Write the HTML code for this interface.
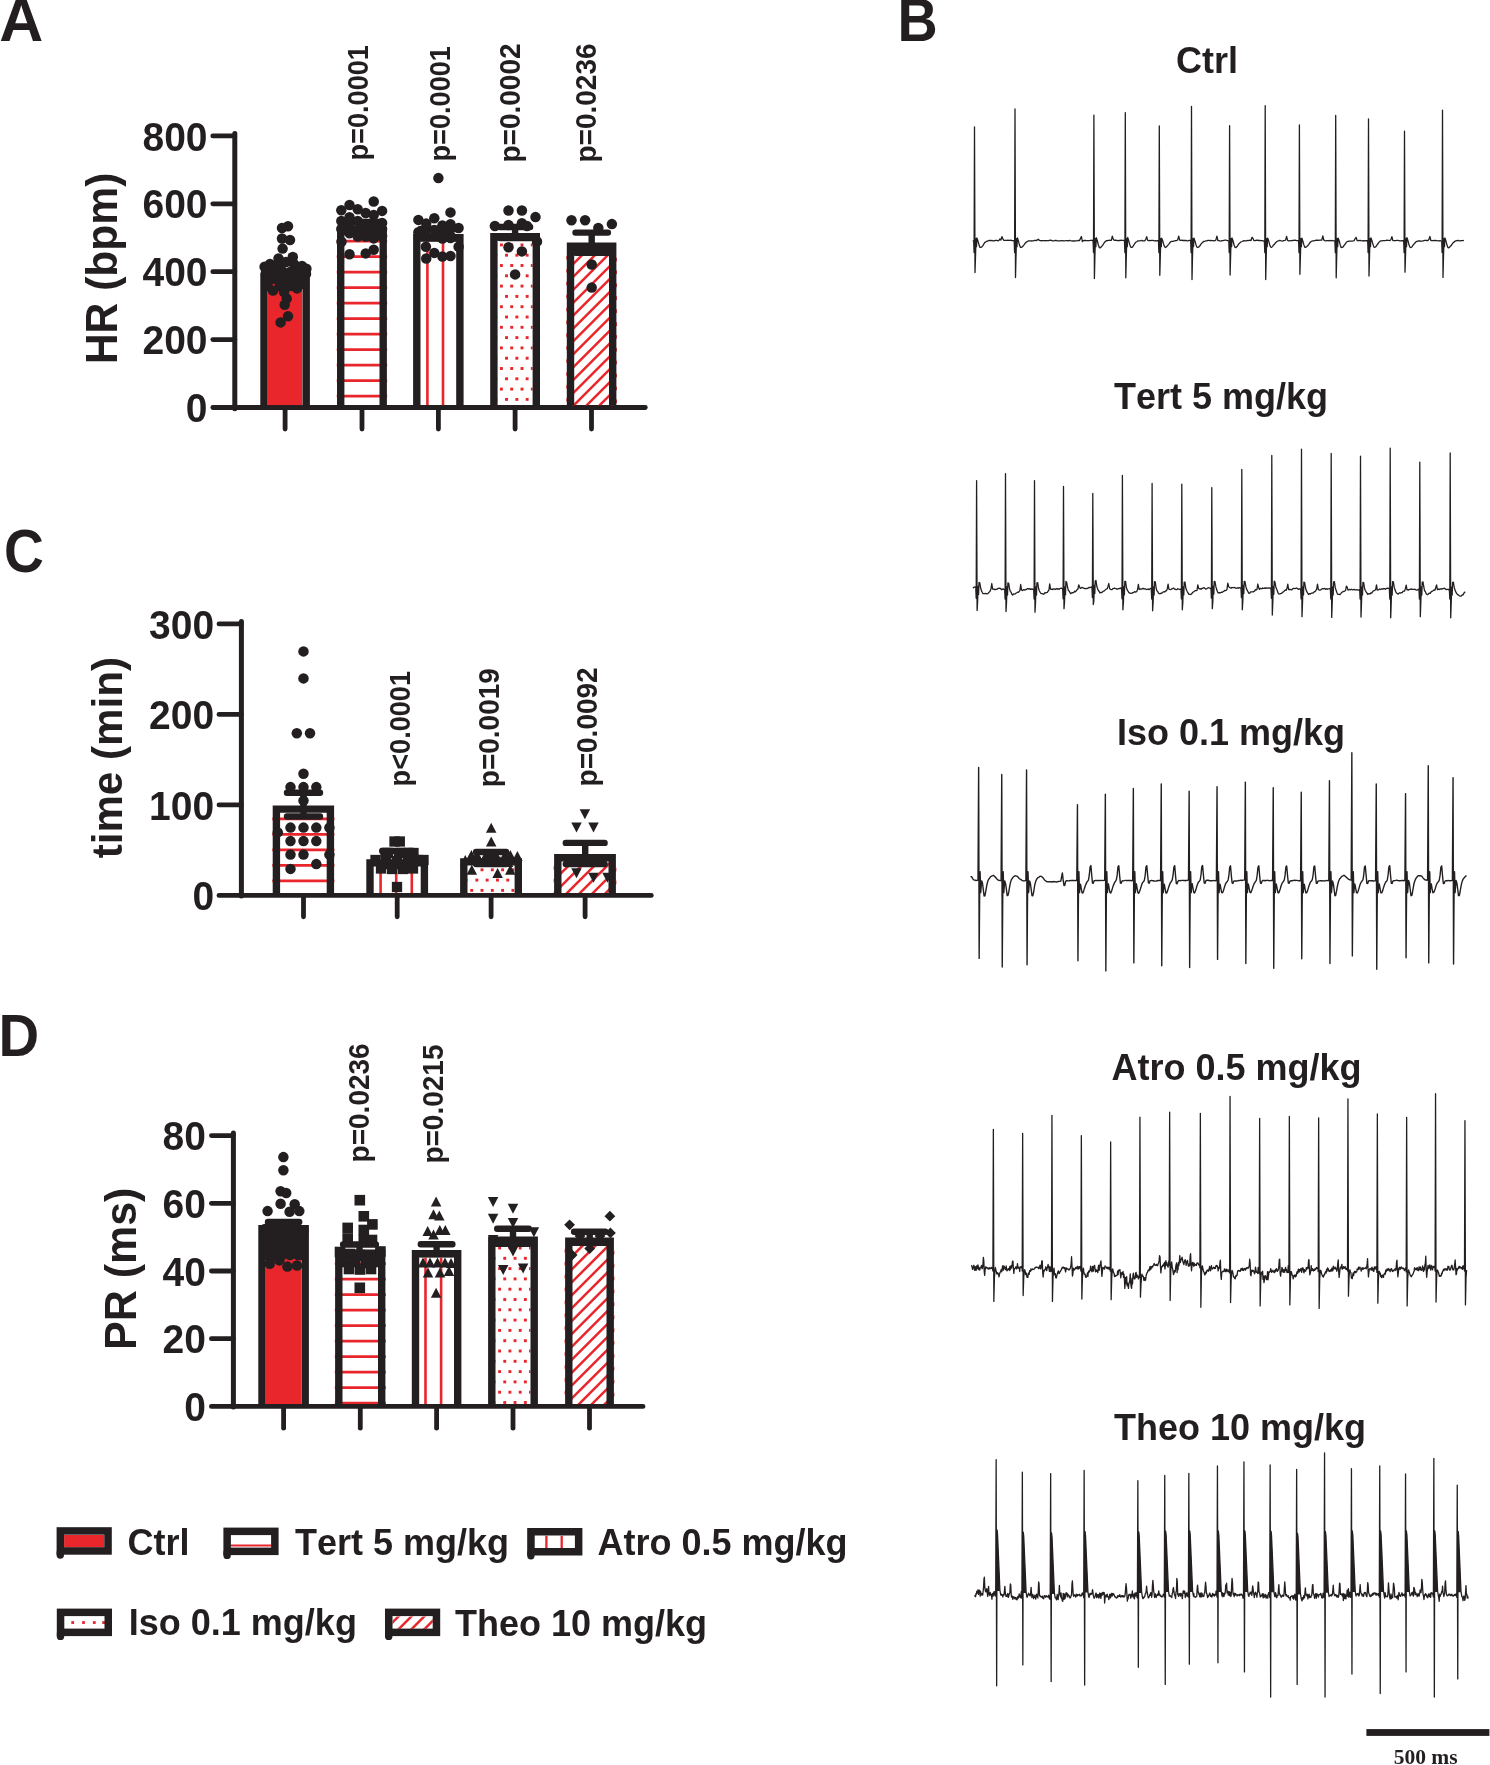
<!DOCTYPE html><html><head><meta charset="utf-8"><style>html,body{margin:0;padding:0;background:#fff;}svg{display:block;will-change:transform;}</style></head><body><svg width="1490" height="1765" viewBox="0 0 1490 1765"><defs><clipPath id="c1"><rect x="267.7" y="280.2" width="34.8" height="125"/></clipPath><clipPath id="c2"><rect x="336.5" y="234.4" width="50.9" height="170.8"/></clipPath><clipPath id="c3"><rect x="420.5" y="241.3" width="35.7" height="163.9"/></clipPath><clipPath id="c4"><rect x="497.6" y="240.5" width="35" height="164.7"/></clipPath><clipPath id="c5"><rect x="566.3" y="249.9" width="50.6" height="155.3"/></clipPath><clipPath id="c6"><rect x="272.2" y="812.8" width="62.4" height="80.3"/></clipPath><clipPath id="c7"><rect x="373.7" y="866.6" width="47" height="26.5"/></clipPath><clipPath id="c8"><rect x="467.5" y="865.6" width="47.1" height="27.5"/></clipPath><clipPath id="c9"><rect x="553.6" y="861.4" width="62.8" height="31.7"/></clipPath><clipPath id="c10"><rect x="265.7" y="1232.4" width="35.8" height="171.7"/></clipPath><clipPath id="c11"><rect x="334.6" y="1256.9" width="51.3" height="147.2"/></clipPath><clipPath id="c12"><rect x="419.2" y="1257.4" width="34.8" height="146.7"/></clipPath><clipPath id="c13"><rect x="495.5" y="1243.8" width="35" height="160.3"/></clipPath><clipPath id="c14"><rect x="564.6" y="1244.8" width="49.8" height="159.3"/></clipPath><clipPath id="c15"><rect x="392.5" y="1616.4" width="40.2" height="12.3"/></clipPath></defs><rect width="1490" height="1765" fill="#ffffff"/><text transform="translate(-0.87,41.1) scale(1.05,1.05)" font-size="58" text-anchor="start" font-family='"Liberation Sans", sans-serif' font-weight="bold" fill="#231f20" style="font-kerning:none" >A</text>
<text transform="translate(3.9,572.1) scale(0.95,1.04)" font-size="58" text-anchor="start" font-family='"Liberation Sans", sans-serif' font-weight="bold" fill="#231f20" style="font-kerning:none" >C</text>
<text transform="translate(-1.4,1056.2) scale(0.97,1.03)" font-size="58" text-anchor="start" font-family='"Liberation Sans", sans-serif' font-weight="bold" fill="#231f20" style="font-kerning:none" >D</text>
<text transform="translate(897.6,41.1) scale(0.96,1.05)" font-size="58" text-anchor="start" font-family='"Liberation Sans", sans-serif' font-weight="bold" fill="#231f20" style="font-kerning:none" >B</text>
<line x1="234.8" y1="133.6" x2="234.8" y2="408.8" stroke="#231f20" stroke-width="5" stroke-linecap="round"/>
<line x1="212.8" y1="135.9" x2="234.8" y2="135.9" stroke="#231f20" stroke-width="4.8" stroke-linecap="round"/>
<text transform="translate(207.5,150.5) scale(1,1.06)" font-size="39" text-anchor="end" font-family='"Liberation Sans", sans-serif' font-weight="bold" fill="#231f20" style="font-kerning:none" >800</text>
<line x1="212.8" y1="203.8" x2="234.8" y2="203.8" stroke="#231f20" stroke-width="4.8" stroke-linecap="round"/>
<text transform="translate(207.5,218.4) scale(1,1.06)" font-size="39" text-anchor="end" font-family='"Liberation Sans", sans-serif' font-weight="bold" fill="#231f20" style="font-kerning:none" >600</text>
<line x1="212.8" y1="271.7" x2="234.8" y2="271.7" stroke="#231f20" stroke-width="4.8" stroke-linecap="round"/>
<text transform="translate(207.5,286.3) scale(1,1.06)" font-size="39" text-anchor="end" font-family='"Liberation Sans", sans-serif' font-weight="bold" fill="#231f20" style="font-kerning:none" >400</text>
<line x1="212.8" y1="339.6" x2="234.8" y2="339.6" stroke="#231f20" stroke-width="4.8" stroke-linecap="round"/>
<text transform="translate(207.5,354.2) scale(1,1.06)" font-size="39" text-anchor="end" font-family='"Liberation Sans", sans-serif' font-weight="bold" fill="#231f20" style="font-kerning:none" >200</text>
<line x1="212.8" y1="407.5" x2="234.8" y2="407.5" stroke="#231f20" stroke-width="4.8" stroke-linecap="round"/>
<text transform="translate(207.5,422.1) scale(1,1.06)" font-size="39" text-anchor="end" font-family='"Liberation Sans", sans-serif' font-weight="bold" fill="#231f20" style="font-kerning:none" >0</text>
<line x1="234.8" y1="407.5" x2="645.3" y2="407.5" stroke="#231f20" stroke-width="4.8" stroke-linecap="round"/>
<text transform="translate(116.8,268.4) rotate(-90) scale(0.99,1.03)" font-size="43" text-anchor="middle" font-family='"Liberation Sans", sans-serif' font-weight="bold" fill="#231f20" style="font-kerning:none" >HR (bpm)</text>
<g clip-path="url(#c1)"><rect x="267.7" y="280.2" width="34.8" height="125" fill="#e9262c"/></g>
<path d="M264,405.2 L264,276.5 L306.2,276.5 L306.2,405.2" fill="none" stroke="#231f20" stroke-width="7.4" stroke-linejoin="miter"/>
<g clip-path="url(#c2)"><line x1="336.5" y1="225.7" x2="387.4" y2="225.7" stroke="#e9262c" stroke-width="2.7"/><line x1="336.5" y1="241.2" x2="387.4" y2="241.2" stroke="#e9262c" stroke-width="2.7"/><line x1="336.5" y1="256.7" x2="387.4" y2="256.7" stroke="#e9262c" stroke-width="2.7"/><line x1="336.5" y1="272.2" x2="387.4" y2="272.2" stroke="#e9262c" stroke-width="2.7"/><line x1="336.5" y1="287.7" x2="387.4" y2="287.7" stroke="#e9262c" stroke-width="2.7"/><line x1="336.5" y1="303.2" x2="387.4" y2="303.2" stroke="#e9262c" stroke-width="2.7"/><line x1="336.5" y1="318.7" x2="387.4" y2="318.7" stroke="#e9262c" stroke-width="2.7"/><line x1="336.5" y1="334.2" x2="387.4" y2="334.2" stroke="#e9262c" stroke-width="2.7"/><line x1="336.5" y1="349.7" x2="387.4" y2="349.7" stroke="#e9262c" stroke-width="2.7"/><line x1="336.5" y1="365.2" x2="387.4" y2="365.2" stroke="#e9262c" stroke-width="2.7"/><line x1="336.5" y1="380.7" x2="387.4" y2="380.7" stroke="#e9262c" stroke-width="2.7"/><line x1="336.5" y1="396.2" x2="387.4" y2="396.2" stroke="#e9262c" stroke-width="2.7"/></g>
<path d="M340.7,405.2 L340.7,230.7 L383.2,230.7 L383.2,405.2" fill="none" stroke="#231f20" stroke-width="7.4" stroke-linejoin="miter"/>
<g clip-path="url(#c3)"><line x1="411.8" y1="241.3" x2="411.8" y2="405.2" stroke="#e9262c" stroke-width="2.6"/><line x1="427.4" y1="241.3" x2="427.4" y2="405.2" stroke="#e9262c" stroke-width="2.6"/><line x1="443" y1="241.3" x2="443" y2="405.2" stroke="#e9262c" stroke-width="2.6"/></g>
<path d="M416.8,405.2 L416.8,237.6 L459.9,237.6 L459.9,405.2" fill="none" stroke="#231f20" stroke-width="7.4" stroke-linejoin="miter"/>
<g clip-path="url(#c4)"><rect x="479.35" y="222.85" width="2.9" height="2.9" fill="#e9262c"/><rect x="489.65" y="222.85" width="2.9" height="2.9" fill="#e9262c"/><rect x="499.95" y="222.85" width="2.9" height="2.9" fill="#e9262c"/><rect x="510.25" y="222.85" width="2.9" height="2.9" fill="#e9262c"/><rect x="520.55" y="222.85" width="2.9" height="2.9" fill="#e9262c"/><rect x="530.85" y="222.85" width="2.9" height="2.9" fill="#e9262c"/><rect x="541.15" y="222.85" width="2.9" height="2.9" fill="#e9262c"/><rect x="484.5" y="233.15" width="2.9" height="2.9" fill="#e9262c"/><rect x="494.8" y="233.15" width="2.9" height="2.9" fill="#e9262c"/><rect x="505.1" y="233.15" width="2.9" height="2.9" fill="#e9262c"/><rect x="515.4" y="233.15" width="2.9" height="2.9" fill="#e9262c"/><rect x="525.7" y="233.15" width="2.9" height="2.9" fill="#e9262c"/><rect x="536" y="233.15" width="2.9" height="2.9" fill="#e9262c"/><rect x="479.35" y="243.45" width="2.9" height="2.9" fill="#e9262c"/><rect x="489.65" y="243.45" width="2.9" height="2.9" fill="#e9262c"/><rect x="499.95" y="243.45" width="2.9" height="2.9" fill="#e9262c"/><rect x="510.25" y="243.45" width="2.9" height="2.9" fill="#e9262c"/><rect x="520.55" y="243.45" width="2.9" height="2.9" fill="#e9262c"/><rect x="530.85" y="243.45" width="2.9" height="2.9" fill="#e9262c"/><rect x="541.15" y="243.45" width="2.9" height="2.9" fill="#e9262c"/><rect x="484.5" y="253.75" width="2.9" height="2.9" fill="#e9262c"/><rect x="494.8" y="253.75" width="2.9" height="2.9" fill="#e9262c"/><rect x="505.1" y="253.75" width="2.9" height="2.9" fill="#e9262c"/><rect x="515.4" y="253.75" width="2.9" height="2.9" fill="#e9262c"/><rect x="525.7" y="253.75" width="2.9" height="2.9" fill="#e9262c"/><rect x="536" y="253.75" width="2.9" height="2.9" fill="#e9262c"/><rect x="479.35" y="264.05" width="2.9" height="2.9" fill="#e9262c"/><rect x="489.65" y="264.05" width="2.9" height="2.9" fill="#e9262c"/><rect x="499.95" y="264.05" width="2.9" height="2.9" fill="#e9262c"/><rect x="510.25" y="264.05" width="2.9" height="2.9" fill="#e9262c"/><rect x="520.55" y="264.05" width="2.9" height="2.9" fill="#e9262c"/><rect x="530.85" y="264.05" width="2.9" height="2.9" fill="#e9262c"/><rect x="541.15" y="264.05" width="2.9" height="2.9" fill="#e9262c"/><rect x="484.5" y="274.35" width="2.9" height="2.9" fill="#e9262c"/><rect x="494.8" y="274.35" width="2.9" height="2.9" fill="#e9262c"/><rect x="505.1" y="274.35" width="2.9" height="2.9" fill="#e9262c"/><rect x="515.4" y="274.35" width="2.9" height="2.9" fill="#e9262c"/><rect x="525.7" y="274.35" width="2.9" height="2.9" fill="#e9262c"/><rect x="536" y="274.35" width="2.9" height="2.9" fill="#e9262c"/><rect x="479.35" y="284.65" width="2.9" height="2.9" fill="#e9262c"/><rect x="489.65" y="284.65" width="2.9" height="2.9" fill="#e9262c"/><rect x="499.95" y="284.65" width="2.9" height="2.9" fill="#e9262c"/><rect x="510.25" y="284.65" width="2.9" height="2.9" fill="#e9262c"/><rect x="520.55" y="284.65" width="2.9" height="2.9" fill="#e9262c"/><rect x="530.85" y="284.65" width="2.9" height="2.9" fill="#e9262c"/><rect x="541.15" y="284.65" width="2.9" height="2.9" fill="#e9262c"/><rect x="484.5" y="294.95" width="2.9" height="2.9" fill="#e9262c"/><rect x="494.8" y="294.95" width="2.9" height="2.9" fill="#e9262c"/><rect x="505.1" y="294.95" width="2.9" height="2.9" fill="#e9262c"/><rect x="515.4" y="294.95" width="2.9" height="2.9" fill="#e9262c"/><rect x="525.7" y="294.95" width="2.9" height="2.9" fill="#e9262c"/><rect x="536" y="294.95" width="2.9" height="2.9" fill="#e9262c"/><rect x="479.35" y="305.25" width="2.9" height="2.9" fill="#e9262c"/><rect x="489.65" y="305.25" width="2.9" height="2.9" fill="#e9262c"/><rect x="499.95" y="305.25" width="2.9" height="2.9" fill="#e9262c"/><rect x="510.25" y="305.25" width="2.9" height="2.9" fill="#e9262c"/><rect x="520.55" y="305.25" width="2.9" height="2.9" fill="#e9262c"/><rect x="530.85" y="305.25" width="2.9" height="2.9" fill="#e9262c"/><rect x="541.15" y="305.25" width="2.9" height="2.9" fill="#e9262c"/><rect x="484.5" y="315.55" width="2.9" height="2.9" fill="#e9262c"/><rect x="494.8" y="315.55" width="2.9" height="2.9" fill="#e9262c"/><rect x="505.1" y="315.55" width="2.9" height="2.9" fill="#e9262c"/><rect x="515.4" y="315.55" width="2.9" height="2.9" fill="#e9262c"/><rect x="525.7" y="315.55" width="2.9" height="2.9" fill="#e9262c"/><rect x="536" y="315.55" width="2.9" height="2.9" fill="#e9262c"/><rect x="479.35" y="325.85" width="2.9" height="2.9" fill="#e9262c"/><rect x="489.65" y="325.85" width="2.9" height="2.9" fill="#e9262c"/><rect x="499.95" y="325.85" width="2.9" height="2.9" fill="#e9262c"/><rect x="510.25" y="325.85" width="2.9" height="2.9" fill="#e9262c"/><rect x="520.55" y="325.85" width="2.9" height="2.9" fill="#e9262c"/><rect x="530.85" y="325.85" width="2.9" height="2.9" fill="#e9262c"/><rect x="541.15" y="325.85" width="2.9" height="2.9" fill="#e9262c"/><rect x="484.5" y="336.15" width="2.9" height="2.9" fill="#e9262c"/><rect x="494.8" y="336.15" width="2.9" height="2.9" fill="#e9262c"/><rect x="505.1" y="336.15" width="2.9" height="2.9" fill="#e9262c"/><rect x="515.4" y="336.15" width="2.9" height="2.9" fill="#e9262c"/><rect x="525.7" y="336.15" width="2.9" height="2.9" fill="#e9262c"/><rect x="536" y="336.15" width="2.9" height="2.9" fill="#e9262c"/><rect x="479.35" y="346.45" width="2.9" height="2.9" fill="#e9262c"/><rect x="489.65" y="346.45" width="2.9" height="2.9" fill="#e9262c"/><rect x="499.95" y="346.45" width="2.9" height="2.9" fill="#e9262c"/><rect x="510.25" y="346.45" width="2.9" height="2.9" fill="#e9262c"/><rect x="520.55" y="346.45" width="2.9" height="2.9" fill="#e9262c"/><rect x="530.85" y="346.45" width="2.9" height="2.9" fill="#e9262c"/><rect x="541.15" y="346.45" width="2.9" height="2.9" fill="#e9262c"/><rect x="484.5" y="356.75" width="2.9" height="2.9" fill="#e9262c"/><rect x="494.8" y="356.75" width="2.9" height="2.9" fill="#e9262c"/><rect x="505.1" y="356.75" width="2.9" height="2.9" fill="#e9262c"/><rect x="515.4" y="356.75" width="2.9" height="2.9" fill="#e9262c"/><rect x="525.7" y="356.75" width="2.9" height="2.9" fill="#e9262c"/><rect x="536" y="356.75" width="2.9" height="2.9" fill="#e9262c"/><rect x="479.35" y="367.05" width="2.9" height="2.9" fill="#e9262c"/><rect x="489.65" y="367.05" width="2.9" height="2.9" fill="#e9262c"/><rect x="499.95" y="367.05" width="2.9" height="2.9" fill="#e9262c"/><rect x="510.25" y="367.05" width="2.9" height="2.9" fill="#e9262c"/><rect x="520.55" y="367.05" width="2.9" height="2.9" fill="#e9262c"/><rect x="530.85" y="367.05" width="2.9" height="2.9" fill="#e9262c"/><rect x="541.15" y="367.05" width="2.9" height="2.9" fill="#e9262c"/><rect x="484.5" y="377.35" width="2.9" height="2.9" fill="#e9262c"/><rect x="494.8" y="377.35" width="2.9" height="2.9" fill="#e9262c"/><rect x="505.1" y="377.35" width="2.9" height="2.9" fill="#e9262c"/><rect x="515.4" y="377.35" width="2.9" height="2.9" fill="#e9262c"/><rect x="525.7" y="377.35" width="2.9" height="2.9" fill="#e9262c"/><rect x="536" y="377.35" width="2.9" height="2.9" fill="#e9262c"/><rect x="479.35" y="387.65" width="2.9" height="2.9" fill="#e9262c"/><rect x="489.65" y="387.65" width="2.9" height="2.9" fill="#e9262c"/><rect x="499.95" y="387.65" width="2.9" height="2.9" fill="#e9262c"/><rect x="510.25" y="387.65" width="2.9" height="2.9" fill="#e9262c"/><rect x="520.55" y="387.65" width="2.9" height="2.9" fill="#e9262c"/><rect x="530.85" y="387.65" width="2.9" height="2.9" fill="#e9262c"/><rect x="541.15" y="387.65" width="2.9" height="2.9" fill="#e9262c"/><rect x="484.5" y="397.95" width="2.9" height="2.9" fill="#e9262c"/><rect x="494.8" y="397.95" width="2.9" height="2.9" fill="#e9262c"/><rect x="505.1" y="397.95" width="2.9" height="2.9" fill="#e9262c"/><rect x="515.4" y="397.95" width="2.9" height="2.9" fill="#e9262c"/><rect x="525.7" y="397.95" width="2.9" height="2.9" fill="#e9262c"/><rect x="536" y="397.95" width="2.9" height="2.9" fill="#e9262c"/><rect x="479.35" y="408.25" width="2.9" height="2.9" fill="#e9262c"/><rect x="489.65" y="408.25" width="2.9" height="2.9" fill="#e9262c"/><rect x="499.95" y="408.25" width="2.9" height="2.9" fill="#e9262c"/><rect x="510.25" y="408.25" width="2.9" height="2.9" fill="#e9262c"/><rect x="520.55" y="408.25" width="2.9" height="2.9" fill="#e9262c"/><rect x="530.85" y="408.25" width="2.9" height="2.9" fill="#e9262c"/><rect x="541.15" y="408.25" width="2.9" height="2.9" fill="#e9262c"/></g>
<path d="M493.9,405.2 L493.9,236.8 L536.3,236.8 L536.3,405.2" fill="none" stroke="#231f20" stroke-width="7.4" stroke-linejoin="miter"/>
<g clip-path="url(#c5)"><line x1="546.3" y1="226.4" x2="636.9" y2="135.8" stroke="#e9262c" stroke-width="2.5"/><line x1="546.3" y1="239.3" x2="636.9" y2="148.7" stroke="#e9262c" stroke-width="2.5"/><line x1="546.3" y1="252.2" x2="636.9" y2="161.6" stroke="#e9262c" stroke-width="2.5"/><line x1="546.3" y1="265.1" x2="636.9" y2="174.5" stroke="#e9262c" stroke-width="2.5"/><line x1="546.3" y1="278" x2="636.9" y2="187.4" stroke="#e9262c" stroke-width="2.5"/><line x1="546.3" y1="290.9" x2="636.9" y2="200.3" stroke="#e9262c" stroke-width="2.5"/><line x1="546.3" y1="303.8" x2="636.9" y2="213.2" stroke="#e9262c" stroke-width="2.5"/><line x1="546.3" y1="316.7" x2="636.9" y2="226.1" stroke="#e9262c" stroke-width="2.5"/><line x1="546.3" y1="329.6" x2="636.9" y2="239" stroke="#e9262c" stroke-width="2.5"/><line x1="546.3" y1="342.5" x2="636.9" y2="251.9" stroke="#e9262c" stroke-width="2.5"/><line x1="546.3" y1="355.4" x2="636.9" y2="264.8" stroke="#e9262c" stroke-width="2.5"/><line x1="546.3" y1="368.3" x2="636.9" y2="277.7" stroke="#e9262c" stroke-width="2.5"/><line x1="546.3" y1="381.2" x2="636.9" y2="290.6" stroke="#e9262c" stroke-width="2.5"/><line x1="546.3" y1="394.1" x2="636.9" y2="303.5" stroke="#e9262c" stroke-width="2.5"/><line x1="546.3" y1="407" x2="636.9" y2="316.4" stroke="#e9262c" stroke-width="2.5"/><line x1="546.3" y1="419.9" x2="636.9" y2="329.3" stroke="#e9262c" stroke-width="2.5"/><line x1="546.3" y1="432.8" x2="636.9" y2="342.2" stroke="#e9262c" stroke-width="2.5"/><line x1="546.3" y1="445.7" x2="636.9" y2="355.1" stroke="#e9262c" stroke-width="2.5"/><line x1="546.3" y1="458.6" x2="636.9" y2="368" stroke="#e9262c" stroke-width="2.5"/><line x1="546.3" y1="471.5" x2="636.9" y2="380.9" stroke="#e9262c" stroke-width="2.5"/><line x1="546.3" y1="484.4" x2="636.9" y2="393.8" stroke="#e9262c" stroke-width="2.5"/><line x1="546.3" y1="497.3" x2="636.9" y2="406.7" stroke="#e9262c" stroke-width="2.5"/><line x1="546.3" y1="510.2" x2="636.9" y2="419.6" stroke="#e9262c" stroke-width="2.5"/></g>
<path d="M570.5,405.2 L570.5,246.2 L612.7,246.2 L612.7,405.2" fill="none" stroke="#231f20" stroke-width="7.4" stroke-linejoin="miter"/>
<line x1="285.1" y1="407.5" x2="285.1" y2="429" stroke="#231f20" stroke-width="4.8" stroke-linecap="round"/>
<line x1="362" y1="407.5" x2="362" y2="429" stroke="#231f20" stroke-width="4.8" stroke-linecap="round"/>
<line x1="438.4" y1="407.5" x2="438.4" y2="429" stroke="#231f20" stroke-width="4.8" stroke-linecap="round"/>
<line x1="515.1" y1="407.5" x2="515.1" y2="429" stroke="#231f20" stroke-width="4.8" stroke-linecap="round"/>
<line x1="591.5" y1="407.5" x2="591.5" y2="429" stroke="#231f20" stroke-width="4.8" stroke-linecap="round"/>
<text transform="translate(367.8,160.5) rotate(-90) scale(0.97,1.07)" font-size="28" text-anchor="start" font-family='"Liberation Sans", sans-serif' font-weight="bold" fill="#231f20" style="font-kerning:none" >p=0.0001</text>
<text transform="translate(449.8,161.5) rotate(-90) scale(0.97,1.07)" font-size="28" text-anchor="start" font-family='"Liberation Sans", sans-serif' font-weight="bold" fill="#231f20" style="font-kerning:none" >p=0.0001</text>
<text transform="translate(520.4,162.5) rotate(-90) scale(1,1.07)" font-size="28" text-anchor="start" font-family='"Liberation Sans", sans-serif' font-weight="bold" fill="#231f20" style="font-kerning:none" >p=0.0002</text>
<text transform="translate(595.6,162.5) rotate(-90) scale(1,1.07)" font-size="28" text-anchor="start" font-family='"Liberation Sans", sans-serif' font-weight="bold" fill="#231f20" style="font-kerning:none" >p=0.0236</text>
<path d="M500.1,227 L530.1,227 M515.1,227 L515.1,238 M500.1,238 L530.1,238" stroke="#231f20" stroke-width="6.4" stroke-linecap="round" fill="none"/>
<path d="M575.5,232.6 L607.9,232.6 M591.7,232.6 L591.7,252.8 M575.5,252.8 L607.9,252.8" stroke="#231f20" stroke-width="6.4" stroke-linecap="round" fill="none"/>
<path d="M344,222 L380,222 M362,222 L362,232 M344,232 L380,232" stroke="#231f20" stroke-width="6.4" stroke-linecap="round" fill="none"/>
<path d="M420.4,229 L456.4,229 M438.4,229 L438.4,238.5 M420.4,238.5 L456.4,238.5" stroke="#231f20" stroke-width="6.4" stroke-linecap="round" fill="none"/>
<circle cx="282" cy="228" r="5.25" fill="#231f20"/>
<circle cx="288" cy="226.2" r="5.25" fill="#231f20"/>
<circle cx="282" cy="238.5" r="5.25" fill="#231f20"/>
<circle cx="290" cy="240" r="5.25" fill="#231f20"/>
<circle cx="282.6" cy="248.6" r="5.25" fill="#231f20"/>
<circle cx="278.5" cy="258.5" r="5.25" fill="#231f20"/>
<circle cx="292.8" cy="257" r="5.25" fill="#231f20"/>
<circle cx="264.6" cy="266.7" r="5.25" fill="#231f20"/>
<circle cx="306.4" cy="268.7" r="5.25" fill="#231f20"/>
<circle cx="270" cy="264" r="5.25" fill="#231f20"/>
<circle cx="278" cy="264" r="5.25" fill="#231f20"/>
<circle cx="286" cy="262" r="5.25" fill="#231f20"/>
<circle cx="294" cy="264" r="5.25" fill="#231f20"/>
<circle cx="302" cy="266" r="5.25" fill="#231f20"/>
<circle cx="266" cy="272" r="5.25" fill="#231f20"/>
<circle cx="274" cy="272" r="5.25" fill="#231f20"/>
<circle cx="282" cy="271" r="5.25" fill="#231f20"/>
<circle cx="290" cy="272" r="5.25" fill="#231f20"/>
<circle cx="298" cy="272" r="5.25" fill="#231f20"/>
<circle cx="306" cy="274" r="5.25" fill="#231f20"/>
<circle cx="270" cy="280" r="5.25" fill="#231f20"/>
<circle cx="278" cy="280" r="5.25" fill="#231f20"/>
<circle cx="286" cy="280" r="5.25" fill="#231f20"/>
<circle cx="294" cy="280" r="5.25" fill="#231f20"/>
<circle cx="302" cy="280" r="5.25" fill="#231f20"/>
<circle cx="267" cy="286" r="5.25" fill="#231f20"/>
<circle cx="280" cy="286" r="5.25" fill="#231f20"/>
<circle cx="290" cy="286" r="5.25" fill="#231f20"/>
<circle cx="304" cy="284" r="5.25" fill="#231f20"/>
<circle cx="273" cy="290.5" r="5.25" fill="#231f20"/>
<circle cx="297" cy="288.4" r="5.25" fill="#231f20"/>
<circle cx="286.7" cy="298.6" r="5.25" fill="#231f20"/>
<circle cx="284.7" cy="304.7" r="5.25" fill="#231f20"/>
<circle cx="288" cy="316.3" r="5.25" fill="#231f20"/>
<circle cx="280.6" cy="322.4" r="5.25" fill="#231f20"/>
<circle cx="284" cy="292" r="5.25" fill="#231f20"/>
<circle cx="373.7" cy="201.5" r="5.25" fill="#231f20"/>
<circle cx="349.5" cy="205" r="5.25" fill="#231f20"/>
<circle cx="341.3" cy="210.2" r="5.25" fill="#231f20"/>
<circle cx="357.7" cy="209.3" r="5.25" fill="#231f20"/>
<circle cx="365.7" cy="213" r="5.25" fill="#231f20"/>
<circle cx="373.7" cy="215" r="5.25" fill="#231f20"/>
<circle cx="382.1" cy="210.9" r="5.25" fill="#231f20"/>
<circle cx="341.3" cy="221" r="5.25" fill="#231f20"/>
<circle cx="349.5" cy="217.2" r="5.25" fill="#231f20"/>
<circle cx="382.1" cy="222.9" r="5.25" fill="#231f20"/>
<circle cx="357.7" cy="221" r="5.25" fill="#231f20"/>
<circle cx="365.7" cy="224" r="5.25" fill="#231f20"/>
<circle cx="373.7" cy="226" r="5.25" fill="#231f20"/>
<circle cx="349.5" cy="226" r="5.25" fill="#231f20"/>
<circle cx="341.3" cy="229" r="5.25" fill="#231f20"/>
<circle cx="382.1" cy="229" r="5.25" fill="#231f20"/>
<circle cx="357.7" cy="230" r="5.25" fill="#231f20"/>
<circle cx="365.7" cy="231" r="5.25" fill="#231f20"/>
<circle cx="349.5" cy="233.2" r="5.25" fill="#231f20"/>
<circle cx="357.7" cy="236.5" r="5.25" fill="#231f20"/>
<circle cx="365.7" cy="236.5" r="5.25" fill="#231f20"/>
<circle cx="373.7" cy="238.4" r="5.25" fill="#231f20"/>
<circle cx="341.5" cy="241.7" r="5.25" fill="#231f20"/>
<circle cx="382.1" cy="236" r="5.25" fill="#231f20"/>
<circle cx="373.7" cy="232" r="5.25" fill="#231f20"/>
<circle cx="349.5" cy="254.3" r="5.25" fill="#231f20"/>
<circle cx="365.7" cy="253.4" r="5.25" fill="#231f20"/>
<circle cx="373.7" cy="249.7" r="5.25" fill="#231f20"/>
<circle cx="438.4" cy="178.1" r="5.25" fill="#231f20"/>
<circle cx="418.4" cy="219.9" r="5.25" fill="#231f20"/>
<circle cx="434.3" cy="218.3" r="5.25" fill="#231f20"/>
<circle cx="450.5" cy="212.4" r="5.25" fill="#231f20"/>
<circle cx="426.2" cy="223.6" r="5.25" fill="#231f20"/>
<circle cx="442.4" cy="225.5" r="5.25" fill="#231f20"/>
<circle cx="450.5" cy="224.2" r="5.25" fill="#231f20"/>
<circle cx="458.6" cy="228" r="5.25" fill="#231f20"/>
<circle cx="418.4" cy="232.3" r="5.25" fill="#231f20"/>
<circle cx="434.3" cy="230" r="5.25" fill="#231f20"/>
<circle cx="442.4" cy="234" r="5.25" fill="#231f20"/>
<circle cx="426.2" cy="236" r="5.25" fill="#231f20"/>
<circle cx="450.5" cy="236" r="5.25" fill="#231f20"/>
<circle cx="425.9" cy="246.7" r="5.25" fill="#231f20"/>
<circle cx="458.6" cy="246.7" r="5.25" fill="#231f20"/>
<circle cx="434.3" cy="252.9" r="5.25" fill="#231f20"/>
<circle cx="426.2" cy="258.5" r="5.25" fill="#231f20"/>
<circle cx="442.4" cy="256.6" r="5.25" fill="#231f20"/>
<circle cx="450.5" cy="256" r="5.25" fill="#231f20"/>
<circle cx="442.4" cy="238.6" r="5.25" fill="#231f20"/>
<circle cx="450.5" cy="238" r="5.25" fill="#231f20"/>
<circle cx="508.5" cy="210.5" r="5.25" fill="#231f20"/>
<circle cx="521.9" cy="210.5" r="5.25" fill="#231f20"/>
<circle cx="535.5" cy="217.1" r="5.25" fill="#231f20"/>
<circle cx="494.9" cy="226" r="5.25" fill="#231f20"/>
<circle cx="508.5" cy="225" r="5.25" fill="#231f20"/>
<circle cx="521.9" cy="223.2" r="5.25" fill="#231f20"/>
<circle cx="527" cy="226" r="5.25" fill="#231f20"/>
<circle cx="537" cy="241.5" r="5.25" fill="#231f20"/>
<circle cx="508.5" cy="247.2" r="5.25" fill="#231f20"/>
<circle cx="521.9" cy="251.4" r="5.25" fill="#231f20"/>
<circle cx="515.1" cy="274.4" r="5.25" fill="#231f20"/>
<circle cx="571.5" cy="220.2" r="5.25" fill="#231f20"/>
<circle cx="585.1" cy="220.2" r="5.25" fill="#231f20"/>
<circle cx="611.9" cy="224.1" r="5.25" fill="#231f20"/>
<circle cx="598.3" cy="227.9" r="5.25" fill="#231f20"/>
<circle cx="591.7" cy="264.5" r="5.25" fill="#231f20"/>
<circle cx="591.7" cy="287.6" r="5.25" fill="#231f20"/>
<line x1="241.4" y1="621.6" x2="241.4" y2="896" stroke="#231f20" stroke-width="5" stroke-linecap="round"/>
<line x1="219" y1="623.9" x2="241.4" y2="623.9" stroke="#231f20" stroke-width="4.8" stroke-linecap="round"/>
<text transform="translate(214.1,638.5) scale(1,1.06)" font-size="39" text-anchor="end" font-family='"Liberation Sans", sans-serif' font-weight="bold" fill="#231f20" style="font-kerning:none" >300</text>
<line x1="219" y1="714.4" x2="241.4" y2="714.4" stroke="#231f20" stroke-width="4.8" stroke-linecap="round"/>
<text transform="translate(214.1,729) scale(1,1.06)" font-size="39" text-anchor="end" font-family='"Liberation Sans", sans-serif' font-weight="bold" fill="#231f20" style="font-kerning:none" >200</text>
<line x1="219" y1="804.9" x2="241.4" y2="804.9" stroke="#231f20" stroke-width="4.8" stroke-linecap="round"/>
<text transform="translate(214.1,819.5) scale(1,1.06)" font-size="39" text-anchor="end" font-family='"Liberation Sans", sans-serif' font-weight="bold" fill="#231f20" style="font-kerning:none" >100</text>
<line x1="219" y1="895.4" x2="241.4" y2="895.4" stroke="#231f20" stroke-width="4.8" stroke-linecap="round"/>
<text transform="translate(214.1,910) scale(1,1.06)" font-size="39" text-anchor="end" font-family='"Liberation Sans", sans-serif' font-weight="bold" fill="#231f20" style="font-kerning:none" >0</text>
<line x1="241.4" y1="895.4" x2="651.3" y2="895.4" stroke="#231f20" stroke-width="4.8" stroke-linecap="round"/>
<text transform="translate(122.2,757.7) rotate(-90) scale(0.98,1)" font-size="43" text-anchor="middle" font-family='"Liberation Sans", sans-serif' font-weight="bold" fill="#231f20" style="font-kerning:none" >time (min)</text>
<g clip-path="url(#c6)"><line x1="272.2" y1="803.4" x2="334.6" y2="803.4" stroke="#e9262c" stroke-width="2.7"/><line x1="272.2" y1="818.9" x2="334.6" y2="818.9" stroke="#e9262c" stroke-width="2.7"/><line x1="272.2" y1="834.4" x2="334.6" y2="834.4" stroke="#e9262c" stroke-width="2.7"/><line x1="272.2" y1="849.9" x2="334.6" y2="849.9" stroke="#e9262c" stroke-width="2.7"/><line x1="272.2" y1="865.4" x2="334.6" y2="865.4" stroke="#e9262c" stroke-width="2.7"/><line x1="272.2" y1="880.9" x2="334.6" y2="880.9" stroke="#e9262c" stroke-width="2.7"/></g>
<path d="M276.4,893.1 L276.4,809.1 L330.4,809.1 L330.4,893.1" fill="none" stroke="#231f20" stroke-width="7.4" stroke-linejoin="miter"/>
<g clip-path="url(#c7)"><line x1="365" y1="866.6" x2="365" y2="893.1" stroke="#e9262c" stroke-width="2.6"/><line x1="380.6" y1="866.6" x2="380.6" y2="893.1" stroke="#e9262c" stroke-width="2.6"/><line x1="396.2" y1="866.6" x2="396.2" y2="893.1" stroke="#e9262c" stroke-width="2.6"/><line x1="411.8" y1="866.6" x2="411.8" y2="893.1" stroke="#e9262c" stroke-width="2.6"/></g>
<path d="M370,893.1 L370,862.9 L424.4,862.9 L424.4,893.1" fill="none" stroke="#231f20" stroke-width="7.4" stroke-linejoin="miter"/>
<g clip-path="url(#c8)"><rect x="449.65" y="847.75" width="2.9" height="2.9" fill="#e9262c"/><rect x="459.95" y="847.75" width="2.9" height="2.9" fill="#e9262c"/><rect x="470.25" y="847.75" width="2.9" height="2.9" fill="#e9262c"/><rect x="480.55" y="847.75" width="2.9" height="2.9" fill="#e9262c"/><rect x="490.85" y="847.75" width="2.9" height="2.9" fill="#e9262c"/><rect x="501.15" y="847.75" width="2.9" height="2.9" fill="#e9262c"/><rect x="511.45" y="847.75" width="2.9" height="2.9" fill="#e9262c"/><rect x="521.75" y="847.75" width="2.9" height="2.9" fill="#e9262c"/><rect x="454.8" y="858.05" width="2.9" height="2.9" fill="#e9262c"/><rect x="465.1" y="858.05" width="2.9" height="2.9" fill="#e9262c"/><rect x="475.4" y="858.05" width="2.9" height="2.9" fill="#e9262c"/><rect x="485.7" y="858.05" width="2.9" height="2.9" fill="#e9262c"/><rect x="496" y="858.05" width="2.9" height="2.9" fill="#e9262c"/><rect x="506.3" y="858.05" width="2.9" height="2.9" fill="#e9262c"/><rect x="516.6" y="858.05" width="2.9" height="2.9" fill="#e9262c"/><rect x="449.65" y="868.35" width="2.9" height="2.9" fill="#e9262c"/><rect x="459.95" y="868.35" width="2.9" height="2.9" fill="#e9262c"/><rect x="470.25" y="868.35" width="2.9" height="2.9" fill="#e9262c"/><rect x="480.55" y="868.35" width="2.9" height="2.9" fill="#e9262c"/><rect x="490.85" y="868.35" width="2.9" height="2.9" fill="#e9262c"/><rect x="501.15" y="868.35" width="2.9" height="2.9" fill="#e9262c"/><rect x="511.45" y="868.35" width="2.9" height="2.9" fill="#e9262c"/><rect x="521.75" y="868.35" width="2.9" height="2.9" fill="#e9262c"/><rect x="454.8" y="878.65" width="2.9" height="2.9" fill="#e9262c"/><rect x="465.1" y="878.65" width="2.9" height="2.9" fill="#e9262c"/><rect x="475.4" y="878.65" width="2.9" height="2.9" fill="#e9262c"/><rect x="485.7" y="878.65" width="2.9" height="2.9" fill="#e9262c"/><rect x="496" y="878.65" width="2.9" height="2.9" fill="#e9262c"/><rect x="506.3" y="878.65" width="2.9" height="2.9" fill="#e9262c"/><rect x="516.6" y="878.65" width="2.9" height="2.9" fill="#e9262c"/><rect x="449.65" y="888.95" width="2.9" height="2.9" fill="#e9262c"/><rect x="459.95" y="888.95" width="2.9" height="2.9" fill="#e9262c"/><rect x="470.25" y="888.95" width="2.9" height="2.9" fill="#e9262c"/><rect x="480.55" y="888.95" width="2.9" height="2.9" fill="#e9262c"/><rect x="490.85" y="888.95" width="2.9" height="2.9" fill="#e9262c"/><rect x="501.15" y="888.95" width="2.9" height="2.9" fill="#e9262c"/><rect x="511.45" y="888.95" width="2.9" height="2.9" fill="#e9262c"/><rect x="521.75" y="888.95" width="2.9" height="2.9" fill="#e9262c"/><rect x="454.8" y="899.25" width="2.9" height="2.9" fill="#e9262c"/><rect x="465.1" y="899.25" width="2.9" height="2.9" fill="#e9262c"/><rect x="475.4" y="899.25" width="2.9" height="2.9" fill="#e9262c"/><rect x="485.7" y="899.25" width="2.9" height="2.9" fill="#e9262c"/><rect x="496" y="899.25" width="2.9" height="2.9" fill="#e9262c"/><rect x="506.3" y="899.25" width="2.9" height="2.9" fill="#e9262c"/><rect x="516.6" y="899.25" width="2.9" height="2.9" fill="#e9262c"/></g>
<path d="M463.8,893.1 L463.8,861.9 L518.3,861.9 L518.3,893.1" fill="none" stroke="#231f20" stroke-width="7.4" stroke-linejoin="miter"/>
<g clip-path="url(#c9)"><line x1="533.6" y1="836.2" x2="636.4" y2="733.4" stroke="#e9262c" stroke-width="2.5"/><line x1="533.6" y1="849.1" x2="636.4" y2="746.3" stroke="#e9262c" stroke-width="2.5"/><line x1="533.6" y1="862" x2="636.4" y2="759.2" stroke="#e9262c" stroke-width="2.5"/><line x1="533.6" y1="874.9" x2="636.4" y2="772.1" stroke="#e9262c" stroke-width="2.5"/><line x1="533.6" y1="887.8" x2="636.4" y2="785" stroke="#e9262c" stroke-width="2.5"/><line x1="533.6" y1="900.7" x2="636.4" y2="797.9" stroke="#e9262c" stroke-width="2.5"/><line x1="533.6" y1="913.6" x2="636.4" y2="810.8" stroke="#e9262c" stroke-width="2.5"/><line x1="533.6" y1="926.5" x2="636.4" y2="823.7" stroke="#e9262c" stroke-width="2.5"/><line x1="533.6" y1="939.4" x2="636.4" y2="836.6" stroke="#e9262c" stroke-width="2.5"/><line x1="533.6" y1="952.3" x2="636.4" y2="849.5" stroke="#e9262c" stroke-width="2.5"/><line x1="533.6" y1="965.2" x2="636.4" y2="862.4" stroke="#e9262c" stroke-width="2.5"/><line x1="533.6" y1="978.1" x2="636.4" y2="875.3" stroke="#e9262c" stroke-width="2.5"/><line x1="533.6" y1="991" x2="636.4" y2="888.2" stroke="#e9262c" stroke-width="2.5"/><line x1="533.6" y1="1003.9" x2="636.4" y2="901.1" stroke="#e9262c" stroke-width="2.5"/></g>
<path d="M557.8,893.1 L557.8,857.7 L612.2,857.7 L612.2,893.1" fill="none" stroke="#231f20" stroke-width="7.4" stroke-linejoin="miter"/>
<line x1="303.5" y1="895.4" x2="303.5" y2="916.8" stroke="#231f20" stroke-width="4.8" stroke-linecap="round"/>
<line x1="397.2" y1="895.4" x2="397.2" y2="916.8" stroke="#231f20" stroke-width="4.8" stroke-linecap="round"/>
<line x1="491.1" y1="895.4" x2="491.1" y2="916.8" stroke="#231f20" stroke-width="4.8" stroke-linecap="round"/>
<line x1="585.1" y1="895.4" x2="585.1" y2="916.8" stroke="#231f20" stroke-width="4.8" stroke-linecap="round"/>
<text transform="translate(410.3,786.4) rotate(-90) scale(0.97,1.07)" font-size="28" text-anchor="start" font-family='"Liberation Sans", sans-serif' font-weight="bold" fill="#231f20" style="font-kerning:none" >p&lt;0.0001</text>
<text transform="translate(498.9,787.2) rotate(-90) scale(1,1.07)" font-size="28" text-anchor="start" font-family='"Liberation Sans", sans-serif' font-weight="bold" fill="#231f20" style="font-kerning:none" >p=0.0019</text>
<text transform="translate(596.7,786.4) rotate(-90) scale(1,1.07)" font-size="28" text-anchor="start" font-family='"Liberation Sans", sans-serif' font-weight="bold" fill="#231f20" style="font-kerning:none" >p=0.0092</text>
<path d="M287,792.7 L320,792.7 M303.5,792.7 L303.5,816.5 M287,816.5 L320,816.5" stroke="#231f20" stroke-width="6.4" stroke-linecap="round" fill="none"/>
<path d="M565.8,842.9 L604.6,842.9 M585.2,842.9 L585.2,864 M565.8,864 L604.6,864" stroke="#231f20" stroke-width="6.4" stroke-linecap="round" fill="none"/>
<path d="M382.2,851 L412.2,851 M397.2,851 L397.2,866 M382.2,866 L412.2,866" stroke="#231f20" stroke-width="6.4" stroke-linecap="round" fill="none"/>
<path d="M476.1,852 L506.1,852 M491.1,852 L491.1,864 M476.1,864 L506.1,864" stroke="#231f20" stroke-width="6.4" stroke-linecap="round" fill="none"/>
<circle cx="303.5" cy="651.4" r="5.25" fill="#231f20"/>
<circle cx="303.5" cy="678.4" r="5.25" fill="#231f20"/>
<circle cx="296.8" cy="733.2" r="5.25" fill="#231f20"/>
<circle cx="310" cy="733.2" r="5.25" fill="#231f20"/>
<circle cx="303.5" cy="773.7" r="5.25" fill="#231f20"/>
<circle cx="290.5" cy="787.1" r="5.25" fill="#231f20"/>
<circle cx="303.5" cy="787.1" r="5.25" fill="#231f20"/>
<circle cx="316.3" cy="787.1" r="5.25" fill="#231f20"/>
<circle cx="303.5" cy="800.6" r="5.25" fill="#231f20"/>
<circle cx="290.5" cy="827.6" r="5.25" fill="#231f20"/>
<circle cx="303.5" cy="827.6" r="5.25" fill="#231f20"/>
<circle cx="316.3" cy="827.6" r="5.25" fill="#231f20"/>
<circle cx="329.4" cy="827.6" r="5.25" fill="#231f20"/>
<circle cx="277.8" cy="832.4" r="5.25" fill="#231f20"/>
<circle cx="290.5" cy="841.1" r="5.25" fill="#231f20"/>
<circle cx="303.5" cy="841.1" r="5.25" fill="#231f20"/>
<circle cx="316.3" cy="841.1" r="5.25" fill="#231f20"/>
<circle cx="290.5" cy="854.6" r="5.25" fill="#231f20"/>
<circle cx="303.5" cy="854.6" r="5.25" fill="#231f20"/>
<circle cx="329.4" cy="854.6" r="5.25" fill="#231f20"/>
<circle cx="316.3" cy="864.1" r="5.25" fill="#231f20"/>
<circle cx="290.5" cy="868.9" r="5.25" fill="#231f20"/>
<rect x="389.35" y="836.35" width="10.3" height="10.3" fill="#231f20"/>
<rect x="394.65" y="836.35" width="10.3" height="10.3" fill="#231f20"/>
<rect x="380.35" y="847.85" width="10.3" height="10.3" fill="#231f20"/>
<rect x="382.85" y="847.85" width="10.3" height="10.3" fill="#231f20"/>
<rect x="395.85" y="847.85" width="10.3" height="10.3" fill="#231f20"/>
<rect x="403.85" y="847.85" width="10.3" height="10.3" fill="#231f20"/>
<rect x="408.35" y="847.85" width="10.3" height="10.3" fill="#231f20"/>
<rect x="370.35" y="854.85" width="10.3" height="10.3" fill="#231f20"/>
<rect x="380.85" y="854.85" width="10.3" height="10.3" fill="#231f20"/>
<rect x="391.85" y="855.85" width="10.3" height="10.3" fill="#231f20"/>
<rect x="402.85" y="854.85" width="10.3" height="10.3" fill="#231f20"/>
<rect x="412.85" y="854.85" width="10.3" height="10.3" fill="#231f20"/>
<rect x="418.35" y="854.85" width="10.3" height="10.3" fill="#231f20"/>
<rect x="375.85" y="863.35" width="10.3" height="10.3" fill="#231f20"/>
<rect x="386.85" y="863.85" width="10.3" height="10.3" fill="#231f20"/>
<rect x="397.85" y="863.85" width="10.3" height="10.3" fill="#231f20"/>
<rect x="407.85" y="863.35" width="10.3" height="10.3" fill="#231f20"/>
<rect x="391.85" y="881.85" width="10.3" height="10.3" fill="#231f20"/>
<path d="M491.2,822.81 L496.45,832.79 L485.95,832.79Z" fill="#231f20"/>
<path d="M491.2,836.61 L496.45,846.59 L485.95,846.59Z" fill="#231f20"/>
<path d="M471.4,850.01 L476.65,859.99 L466.15,859.99Z" fill="#231f20"/>
<path d="M477,850.01 L482.25,859.99 L471.75,859.99Z" fill="#231f20"/>
<path d="M486,850.01 L491.25,859.99 L480.75,859.99Z" fill="#231f20"/>
<path d="M496,850.01 L501.25,859.99 L490.75,859.99Z" fill="#231f20"/>
<path d="M505,850.01 L510.25,859.99 L499.75,859.99Z" fill="#231f20"/>
<path d="M510.3,850.01 L515.55,859.99 L505.05,859.99Z" fill="#231f20"/>
<path d="M517.4,851.01 L522.65,860.99 L512.15,860.99Z" fill="#231f20"/>
<path d="M465.3,855.01 L470.55,864.99 L460.05,864.99Z" fill="#231f20"/>
<path d="M471.8,864.71 L477.05,874.69 L466.55,874.69Z" fill="#231f20"/>
<path d="M497.6,867.91 L502.85,877.89 L492.35,877.89Z" fill="#231f20"/>
<path d="M510.3,864.71 L515.55,874.69 L505.05,874.69Z" fill="#231f20"/>
<path d="M480,856.01 L485.25,865.99 L474.75,865.99Z" fill="#231f20"/>
<path d="M490,857.01 L495.25,866.99 L484.75,866.99Z" fill="#231f20"/>
<path d="M500,856.01 L505.25,865.99 L494.75,865.99Z" fill="#231f20"/>
<path d="M508,857.01 L513.25,866.99 L502.75,866.99Z" fill="#231f20"/>
<path d="M584.9,819.19 L590.15,809.21 L579.65,809.21Z" fill="#231f20"/>
<path d="M576.5,832.59 L581.75,822.61 L571.25,822.61Z" fill="#231f20"/>
<path d="M593.5,832.59 L598.75,822.61 L588.25,822.61Z" fill="#231f20"/>
<path d="M576.5,878.19 L581.75,868.21 L571.25,868.21Z" fill="#231f20"/>
<path d="M593.5,882.69 L598.75,872.71 L588.25,872.71Z" fill="#231f20"/>
<path d="M607.5,882.69 L612.75,872.71 L602.25,872.71Z" fill="#231f20"/>
<path d="M570,866.99 L575.25,857.01 L564.75,857.01Z" fill="#231f20"/>
<path d="M600,866.99 L605.25,857.01 L594.75,857.01Z" fill="#231f20"/>
<line x1="233.4" y1="1133" x2="233.4" y2="1407.1" stroke="#231f20" stroke-width="5" stroke-linecap="round"/>
<line x1="211.4" y1="1135.6" x2="233.4" y2="1135.6" stroke="#231f20" stroke-width="4.8" stroke-linecap="round"/>
<text transform="translate(205.9,1150.2) scale(1,1.06)" font-size="39" text-anchor="end" font-family='"Liberation Sans", sans-serif' font-weight="bold" fill="#231f20" style="font-kerning:none" >80</text>
<line x1="211.4" y1="1203.3" x2="233.4" y2="1203.3" stroke="#231f20" stroke-width="4.8" stroke-linecap="round"/>
<text transform="translate(205.9,1217.9) scale(1,1.06)" font-size="39" text-anchor="end" font-family='"Liberation Sans", sans-serif' font-weight="bold" fill="#231f20" style="font-kerning:none" >60</text>
<line x1="211.4" y1="1271" x2="233.4" y2="1271" stroke="#231f20" stroke-width="4.8" stroke-linecap="round"/>
<text transform="translate(205.9,1285.6) scale(1,1.06)" font-size="39" text-anchor="end" font-family='"Liberation Sans", sans-serif' font-weight="bold" fill="#231f20" style="font-kerning:none" >40</text>
<line x1="211.4" y1="1338.7" x2="233.4" y2="1338.7" stroke="#231f20" stroke-width="4.8" stroke-linecap="round"/>
<text transform="translate(205.9,1353.3) scale(1,1.06)" font-size="39" text-anchor="end" font-family='"Liberation Sans", sans-serif' font-weight="bold" fill="#231f20" style="font-kerning:none" >20</text>
<line x1="211.4" y1="1406.4" x2="233.4" y2="1406.4" stroke="#231f20" stroke-width="4.8" stroke-linecap="round"/>
<text transform="translate(205.9,1421) scale(1,1.06)" font-size="39" text-anchor="end" font-family='"Liberation Sans", sans-serif' font-weight="bold" fill="#231f20" style="font-kerning:none" >0</text>
<line x1="233.4" y1="1406.4" x2="643" y2="1406.4" stroke="#231f20" stroke-width="4.8" stroke-linecap="round"/>
<text transform="translate(135.5,1268.8) rotate(-90) scale(1,1.03)" font-size="43" text-anchor="middle" font-family='"Liberation Sans", sans-serif' font-weight="bold" fill="#231f20" style="font-kerning:none" >PR (ms)</text>
<g clip-path="url(#c10)"><rect x="265.7" y="1232.4" width="35.8" height="171.7" fill="#e9262c"/></g>
<path d="M262,1404.1 L262,1228.7 L305.2,1228.7 L305.2,1404.1" fill="none" stroke="#231f20" stroke-width="7.4" stroke-linejoin="miter"/>
<g clip-path="url(#c11)"><line x1="334.6" y1="1248.2" x2="385.9" y2="1248.2" stroke="#e9262c" stroke-width="2.7"/><line x1="334.6" y1="1263.7" x2="385.9" y2="1263.7" stroke="#e9262c" stroke-width="2.7"/><line x1="334.6" y1="1279.2" x2="385.9" y2="1279.2" stroke="#e9262c" stroke-width="2.7"/><line x1="334.6" y1="1294.7" x2="385.9" y2="1294.7" stroke="#e9262c" stroke-width="2.7"/><line x1="334.6" y1="1310.2" x2="385.9" y2="1310.2" stroke="#e9262c" stroke-width="2.7"/><line x1="334.6" y1="1325.7" x2="385.9" y2="1325.7" stroke="#e9262c" stroke-width="2.7"/><line x1="334.6" y1="1341.2" x2="385.9" y2="1341.2" stroke="#e9262c" stroke-width="2.7"/><line x1="334.6" y1="1356.7" x2="385.9" y2="1356.7" stroke="#e9262c" stroke-width="2.7"/><line x1="334.6" y1="1372.2" x2="385.9" y2="1372.2" stroke="#e9262c" stroke-width="2.7"/><line x1="334.6" y1="1387.7" x2="385.9" y2="1387.7" stroke="#e9262c" stroke-width="2.7"/><line x1="334.6" y1="1403.2" x2="385.9" y2="1403.2" stroke="#e9262c" stroke-width="2.7"/></g>
<path d="M338.8,1404.1 L338.8,1253.2 L381.7,1253.2 L381.7,1404.1" fill="none" stroke="#231f20" stroke-width="7.4" stroke-linejoin="miter"/>
<g clip-path="url(#c12)"><line x1="409.9" y1="1257.4" x2="409.9" y2="1404.1" stroke="#e9262c" stroke-width="2.6"/><line x1="425.5" y1="1257.4" x2="425.5" y2="1404.1" stroke="#e9262c" stroke-width="2.6"/><line x1="441.1" y1="1257.4" x2="441.1" y2="1404.1" stroke="#e9262c" stroke-width="2.6"/></g>
<path d="M415.5,1404.1 L415.5,1253.7 L457.7,1253.7 L457.7,1404.1" fill="none" stroke="#231f20" stroke-width="7.4" stroke-linejoin="miter"/>
<g clip-path="url(#c13)"><rect x="477.55" y="1225.95" width="2.9" height="2.9" fill="#e9262c"/><rect x="487.85" y="1225.95" width="2.9" height="2.9" fill="#e9262c"/><rect x="498.15" y="1225.95" width="2.9" height="2.9" fill="#e9262c"/><rect x="508.45" y="1225.95" width="2.9" height="2.9" fill="#e9262c"/><rect x="518.75" y="1225.95" width="2.9" height="2.9" fill="#e9262c"/><rect x="529.05" y="1225.95" width="2.9" height="2.9" fill="#e9262c"/><rect x="482.7" y="1236.25" width="2.9" height="2.9" fill="#e9262c"/><rect x="493" y="1236.25" width="2.9" height="2.9" fill="#e9262c"/><rect x="503.3" y="1236.25" width="2.9" height="2.9" fill="#e9262c"/><rect x="513.6" y="1236.25" width="2.9" height="2.9" fill="#e9262c"/><rect x="523.9" y="1236.25" width="2.9" height="2.9" fill="#e9262c"/><rect x="534.2" y="1236.25" width="2.9" height="2.9" fill="#e9262c"/><rect x="477.55" y="1246.55" width="2.9" height="2.9" fill="#e9262c"/><rect x="487.85" y="1246.55" width="2.9" height="2.9" fill="#e9262c"/><rect x="498.15" y="1246.55" width="2.9" height="2.9" fill="#e9262c"/><rect x="508.45" y="1246.55" width="2.9" height="2.9" fill="#e9262c"/><rect x="518.75" y="1246.55" width="2.9" height="2.9" fill="#e9262c"/><rect x="529.05" y="1246.55" width="2.9" height="2.9" fill="#e9262c"/><rect x="482.7" y="1256.85" width="2.9" height="2.9" fill="#e9262c"/><rect x="493" y="1256.85" width="2.9" height="2.9" fill="#e9262c"/><rect x="503.3" y="1256.85" width="2.9" height="2.9" fill="#e9262c"/><rect x="513.6" y="1256.85" width="2.9" height="2.9" fill="#e9262c"/><rect x="523.9" y="1256.85" width="2.9" height="2.9" fill="#e9262c"/><rect x="534.2" y="1256.85" width="2.9" height="2.9" fill="#e9262c"/><rect x="477.55" y="1267.15" width="2.9" height="2.9" fill="#e9262c"/><rect x="487.85" y="1267.15" width="2.9" height="2.9" fill="#e9262c"/><rect x="498.15" y="1267.15" width="2.9" height="2.9" fill="#e9262c"/><rect x="508.45" y="1267.15" width="2.9" height="2.9" fill="#e9262c"/><rect x="518.75" y="1267.15" width="2.9" height="2.9" fill="#e9262c"/><rect x="529.05" y="1267.15" width="2.9" height="2.9" fill="#e9262c"/><rect x="482.7" y="1277.45" width="2.9" height="2.9" fill="#e9262c"/><rect x="493" y="1277.45" width="2.9" height="2.9" fill="#e9262c"/><rect x="503.3" y="1277.45" width="2.9" height="2.9" fill="#e9262c"/><rect x="513.6" y="1277.45" width="2.9" height="2.9" fill="#e9262c"/><rect x="523.9" y="1277.45" width="2.9" height="2.9" fill="#e9262c"/><rect x="534.2" y="1277.45" width="2.9" height="2.9" fill="#e9262c"/><rect x="477.55" y="1287.75" width="2.9" height="2.9" fill="#e9262c"/><rect x="487.85" y="1287.75" width="2.9" height="2.9" fill="#e9262c"/><rect x="498.15" y="1287.75" width="2.9" height="2.9" fill="#e9262c"/><rect x="508.45" y="1287.75" width="2.9" height="2.9" fill="#e9262c"/><rect x="518.75" y="1287.75" width="2.9" height="2.9" fill="#e9262c"/><rect x="529.05" y="1287.75" width="2.9" height="2.9" fill="#e9262c"/><rect x="482.7" y="1298.05" width="2.9" height="2.9" fill="#e9262c"/><rect x="493" y="1298.05" width="2.9" height="2.9" fill="#e9262c"/><rect x="503.3" y="1298.05" width="2.9" height="2.9" fill="#e9262c"/><rect x="513.6" y="1298.05" width="2.9" height="2.9" fill="#e9262c"/><rect x="523.9" y="1298.05" width="2.9" height="2.9" fill="#e9262c"/><rect x="534.2" y="1298.05" width="2.9" height="2.9" fill="#e9262c"/><rect x="477.55" y="1308.35" width="2.9" height="2.9" fill="#e9262c"/><rect x="487.85" y="1308.35" width="2.9" height="2.9" fill="#e9262c"/><rect x="498.15" y="1308.35" width="2.9" height="2.9" fill="#e9262c"/><rect x="508.45" y="1308.35" width="2.9" height="2.9" fill="#e9262c"/><rect x="518.75" y="1308.35" width="2.9" height="2.9" fill="#e9262c"/><rect x="529.05" y="1308.35" width="2.9" height="2.9" fill="#e9262c"/><rect x="482.7" y="1318.65" width="2.9" height="2.9" fill="#e9262c"/><rect x="493" y="1318.65" width="2.9" height="2.9" fill="#e9262c"/><rect x="503.3" y="1318.65" width="2.9" height="2.9" fill="#e9262c"/><rect x="513.6" y="1318.65" width="2.9" height="2.9" fill="#e9262c"/><rect x="523.9" y="1318.65" width="2.9" height="2.9" fill="#e9262c"/><rect x="534.2" y="1318.65" width="2.9" height="2.9" fill="#e9262c"/><rect x="477.55" y="1328.95" width="2.9" height="2.9" fill="#e9262c"/><rect x="487.85" y="1328.95" width="2.9" height="2.9" fill="#e9262c"/><rect x="498.15" y="1328.95" width="2.9" height="2.9" fill="#e9262c"/><rect x="508.45" y="1328.95" width="2.9" height="2.9" fill="#e9262c"/><rect x="518.75" y="1328.95" width="2.9" height="2.9" fill="#e9262c"/><rect x="529.05" y="1328.95" width="2.9" height="2.9" fill="#e9262c"/><rect x="482.7" y="1339.25" width="2.9" height="2.9" fill="#e9262c"/><rect x="493" y="1339.25" width="2.9" height="2.9" fill="#e9262c"/><rect x="503.3" y="1339.25" width="2.9" height="2.9" fill="#e9262c"/><rect x="513.6" y="1339.25" width="2.9" height="2.9" fill="#e9262c"/><rect x="523.9" y="1339.25" width="2.9" height="2.9" fill="#e9262c"/><rect x="534.2" y="1339.25" width="2.9" height="2.9" fill="#e9262c"/><rect x="477.55" y="1349.55" width="2.9" height="2.9" fill="#e9262c"/><rect x="487.85" y="1349.55" width="2.9" height="2.9" fill="#e9262c"/><rect x="498.15" y="1349.55" width="2.9" height="2.9" fill="#e9262c"/><rect x="508.45" y="1349.55" width="2.9" height="2.9" fill="#e9262c"/><rect x="518.75" y="1349.55" width="2.9" height="2.9" fill="#e9262c"/><rect x="529.05" y="1349.55" width="2.9" height="2.9" fill="#e9262c"/><rect x="482.7" y="1359.85" width="2.9" height="2.9" fill="#e9262c"/><rect x="493" y="1359.85" width="2.9" height="2.9" fill="#e9262c"/><rect x="503.3" y="1359.85" width="2.9" height="2.9" fill="#e9262c"/><rect x="513.6" y="1359.85" width="2.9" height="2.9" fill="#e9262c"/><rect x="523.9" y="1359.85" width="2.9" height="2.9" fill="#e9262c"/><rect x="534.2" y="1359.85" width="2.9" height="2.9" fill="#e9262c"/><rect x="477.55" y="1370.15" width="2.9" height="2.9" fill="#e9262c"/><rect x="487.85" y="1370.15" width="2.9" height="2.9" fill="#e9262c"/><rect x="498.15" y="1370.15" width="2.9" height="2.9" fill="#e9262c"/><rect x="508.45" y="1370.15" width="2.9" height="2.9" fill="#e9262c"/><rect x="518.75" y="1370.15" width="2.9" height="2.9" fill="#e9262c"/><rect x="529.05" y="1370.15" width="2.9" height="2.9" fill="#e9262c"/><rect x="482.7" y="1380.45" width="2.9" height="2.9" fill="#e9262c"/><rect x="493" y="1380.45" width="2.9" height="2.9" fill="#e9262c"/><rect x="503.3" y="1380.45" width="2.9" height="2.9" fill="#e9262c"/><rect x="513.6" y="1380.45" width="2.9" height="2.9" fill="#e9262c"/><rect x="523.9" y="1380.45" width="2.9" height="2.9" fill="#e9262c"/><rect x="534.2" y="1380.45" width="2.9" height="2.9" fill="#e9262c"/><rect x="477.55" y="1390.75" width="2.9" height="2.9" fill="#e9262c"/><rect x="487.85" y="1390.75" width="2.9" height="2.9" fill="#e9262c"/><rect x="498.15" y="1390.75" width="2.9" height="2.9" fill="#e9262c"/><rect x="508.45" y="1390.75" width="2.9" height="2.9" fill="#e9262c"/><rect x="518.75" y="1390.75" width="2.9" height="2.9" fill="#e9262c"/><rect x="529.05" y="1390.75" width="2.9" height="2.9" fill="#e9262c"/><rect x="482.7" y="1401.05" width="2.9" height="2.9" fill="#e9262c"/><rect x="493" y="1401.05" width="2.9" height="2.9" fill="#e9262c"/><rect x="503.3" y="1401.05" width="2.9" height="2.9" fill="#e9262c"/><rect x="513.6" y="1401.05" width="2.9" height="2.9" fill="#e9262c"/><rect x="523.9" y="1401.05" width="2.9" height="2.9" fill="#e9262c"/><rect x="534.2" y="1401.05" width="2.9" height="2.9" fill="#e9262c"/><rect x="477.55" y="1411.35" width="2.9" height="2.9" fill="#e9262c"/><rect x="487.85" y="1411.35" width="2.9" height="2.9" fill="#e9262c"/><rect x="498.15" y="1411.35" width="2.9" height="2.9" fill="#e9262c"/><rect x="508.45" y="1411.35" width="2.9" height="2.9" fill="#e9262c"/><rect x="518.75" y="1411.35" width="2.9" height="2.9" fill="#e9262c"/><rect x="529.05" y="1411.35" width="2.9" height="2.9" fill="#e9262c"/></g>
<path d="M491.8,1404.1 L491.8,1240.1 L534.2,1240.1 L534.2,1404.1" fill="none" stroke="#231f20" stroke-width="7.4" stroke-linejoin="miter"/>
<g clip-path="url(#c14)"><line x1="544.6" y1="1219.2" x2="634.4" y2="1129.4" stroke="#e9262c" stroke-width="2.5"/><line x1="544.6" y1="1232.1" x2="634.4" y2="1142.3" stroke="#e9262c" stroke-width="2.5"/><line x1="544.6" y1="1245" x2="634.4" y2="1155.2" stroke="#e9262c" stroke-width="2.5"/><line x1="544.6" y1="1257.9" x2="634.4" y2="1168.1" stroke="#e9262c" stroke-width="2.5"/><line x1="544.6" y1="1270.8" x2="634.4" y2="1181" stroke="#e9262c" stroke-width="2.5"/><line x1="544.6" y1="1283.7" x2="634.4" y2="1193.9" stroke="#e9262c" stroke-width="2.5"/><line x1="544.6" y1="1296.6" x2="634.4" y2="1206.8" stroke="#e9262c" stroke-width="2.5"/><line x1="544.6" y1="1309.5" x2="634.4" y2="1219.7" stroke="#e9262c" stroke-width="2.5"/><line x1="544.6" y1="1322.4" x2="634.4" y2="1232.6" stroke="#e9262c" stroke-width="2.5"/><line x1="544.6" y1="1335.3" x2="634.4" y2="1245.5" stroke="#e9262c" stroke-width="2.5"/><line x1="544.6" y1="1348.2" x2="634.4" y2="1258.4" stroke="#e9262c" stroke-width="2.5"/><line x1="544.6" y1="1361.1" x2="634.4" y2="1271.3" stroke="#e9262c" stroke-width="2.5"/><line x1="544.6" y1="1374" x2="634.4" y2="1284.2" stroke="#e9262c" stroke-width="2.5"/><line x1="544.6" y1="1386.9" x2="634.4" y2="1297.1" stroke="#e9262c" stroke-width="2.5"/><line x1="544.6" y1="1399.8" x2="634.4" y2="1310" stroke="#e9262c" stroke-width="2.5"/><line x1="544.6" y1="1412.7" x2="634.4" y2="1322.9" stroke="#e9262c" stroke-width="2.5"/><line x1="544.6" y1="1425.6" x2="634.4" y2="1335.8" stroke="#e9262c" stroke-width="2.5"/><line x1="544.6" y1="1438.5" x2="634.4" y2="1348.7" stroke="#e9262c" stroke-width="2.5"/><line x1="544.6" y1="1451.4" x2="634.4" y2="1361.6" stroke="#e9262c" stroke-width="2.5"/><line x1="544.6" y1="1464.3" x2="634.4" y2="1374.5" stroke="#e9262c" stroke-width="2.5"/><line x1="544.6" y1="1477.2" x2="634.4" y2="1387.4" stroke="#e9262c" stroke-width="2.5"/><line x1="544.6" y1="1490.1" x2="634.4" y2="1400.3" stroke="#e9262c" stroke-width="2.5"/><line x1="544.6" y1="1503" x2="634.4" y2="1413.2" stroke="#e9262c" stroke-width="2.5"/></g>
<path d="M568.8,1404.1 L568.8,1241.1 L610.2,1241.1 L610.2,1404.1" fill="none" stroke="#231f20" stroke-width="7.4" stroke-linejoin="miter"/>
<line x1="283.6" y1="1406.4" x2="283.6" y2="1428.2" stroke="#231f20" stroke-width="4.8" stroke-linecap="round"/>
<line x1="360.3" y1="1406.4" x2="360.3" y2="1428.2" stroke="#231f20" stroke-width="4.8" stroke-linecap="round"/>
<line x1="436.6" y1="1406.4" x2="436.6" y2="1428.2" stroke="#231f20" stroke-width="4.8" stroke-linecap="round"/>
<line x1="513" y1="1406.4" x2="513" y2="1428.2" stroke="#231f20" stroke-width="4.8" stroke-linecap="round"/>
<line x1="589.5" y1="1406.4" x2="589.5" y2="1428.2" stroke="#231f20" stroke-width="4.8" stroke-linecap="round"/>
<text transform="translate(368.9,1162.4) rotate(-90) scale(1,1.07)" font-size="28" text-anchor="start" font-family='"Liberation Sans", sans-serif' font-weight="bold" fill="#231f20" style="font-kerning:none" >p=0.0236</text>
<text transform="translate(442.6,1163.6) rotate(-90) scale(1,1.07)" font-size="28" text-anchor="start" font-family='"Liberation Sans", sans-serif' font-weight="bold" fill="#231f20" style="font-kerning:none" >p=0.0215</text>
<path d="M343.1,1244.5 L375.9,1244.5 M359.5,1244.5 L359.5,1258 M343.1,1258 L375.9,1258" stroke="#231f20" stroke-width="6.4" stroke-linecap="round" fill="none"/>
<path d="M420.8,1244.3 L452.4,1244.3 M436.6,1244.3 L436.6,1254 M420.8,1254 L452.4,1254" stroke="#231f20" stroke-width="6.4" stroke-linecap="round" fill="none"/>
<path d="M497.2,1228.8 L528.8,1228.8 M513,1228.8 L513,1243.9 M497.2,1243.9 L528.8,1243.9" stroke="#231f20" stroke-width="6.4" stroke-linecap="round" fill="none"/>
<path d="M574.1,1231.8 L605.3,1231.8 M589.7,1231.8 L589.7,1242.9 M574.1,1242.9 L605.3,1242.9" stroke="#231f20" stroke-width="6.4" stroke-linecap="round" fill="none"/>
<path d="M268,1222 L299.2,1222 M283.6,1222 L283.6,1232 M268,1232 L299.2,1232" stroke="#231f20" stroke-width="6.4" stroke-linecap="round" fill="none"/>
<circle cx="283.4" cy="1157.1" r="5.25" fill="#231f20"/>
<circle cx="283.4" cy="1170.2" r="5.25" fill="#231f20"/>
<circle cx="280.6" cy="1191.3" r="5.25" fill="#231f20"/>
<circle cx="286.2" cy="1193" r="5.25" fill="#231f20"/>
<circle cx="267.6" cy="1211.1" r="5.25" fill="#231f20"/>
<circle cx="280.6" cy="1203.8" r="5.25" fill="#231f20"/>
<circle cx="289.6" cy="1211.7" r="5.25" fill="#231f20"/>
<circle cx="294.7" cy="1204.3" r="5.25" fill="#231f20"/>
<circle cx="299.3" cy="1211.1" r="5.25" fill="#231f20"/>
<circle cx="283.4" cy="1225" r="5.25" fill="#231f20"/>
<circle cx="272" cy="1227" r="5.25" fill="#231f20"/>
<circle cx="293" cy="1228" r="5.25" fill="#231f20"/>
<circle cx="303.5" cy="1231" r="5.25" fill="#231f20"/>
<circle cx="265" cy="1229" r="5.25" fill="#231f20"/>
<circle cx="269.8" cy="1263.8" r="5.25" fill="#231f20"/>
<circle cx="279.4" cy="1260.4" r="5.25" fill="#231f20"/>
<circle cx="287.4" cy="1266.6" r="5.25" fill="#231f20"/>
<circle cx="297" cy="1265.5" r="5.25" fill="#231f20"/>
<circle cx="266" cy="1234" r="5.25" fill="#231f20"/>
<circle cx="274" cy="1234" r="5.25" fill="#231f20"/>
<circle cx="282" cy="1234" r="5.25" fill="#231f20"/>
<circle cx="290" cy="1234" r="5.25" fill="#231f20"/>
<circle cx="298" cy="1234" r="5.25" fill="#231f20"/>
<circle cx="302" cy="1234" r="5.25" fill="#231f20"/>
<circle cx="266" cy="1241" r="5.25" fill="#231f20"/>
<circle cx="274" cy="1241" r="5.25" fill="#231f20"/>
<circle cx="282" cy="1241" r="5.25" fill="#231f20"/>
<circle cx="290" cy="1241" r="5.25" fill="#231f20"/>
<circle cx="298" cy="1241" r="5.25" fill="#231f20"/>
<circle cx="302" cy="1241" r="5.25" fill="#231f20"/>
<circle cx="266" cy="1248" r="5.25" fill="#231f20"/>
<circle cx="274" cy="1248" r="5.25" fill="#231f20"/>
<circle cx="282" cy="1248" r="5.25" fill="#231f20"/>
<circle cx="290" cy="1248" r="5.25" fill="#231f20"/>
<circle cx="298" cy="1248" r="5.25" fill="#231f20"/>
<circle cx="302" cy="1248" r="5.25" fill="#231f20"/>
<circle cx="266" cy="1255" r="5.25" fill="#231f20"/>
<circle cx="274" cy="1255" r="5.25" fill="#231f20"/>
<circle cx="282" cy="1255" r="5.25" fill="#231f20"/>
<circle cx="290" cy="1255" r="5.25" fill="#231f20"/>
<circle cx="298" cy="1255" r="5.25" fill="#231f20"/>
<circle cx="302" cy="1255" r="5.25" fill="#231f20"/>
<rect x="354.5" y="1194.9" width="10.6" height="10.6" fill="#231f20"/>
<rect x="358.5" y="1211" width="10.6" height="10.6" fill="#231f20"/>
<rect x="367.1" y="1219.1" width="10.6" height="10.6" fill="#231f20"/>
<rect x="342.4" y="1222.6" width="10.6" height="10.6" fill="#231f20"/>
<rect x="358.5" y="1224.7" width="10.6" height="10.6" fill="#231f20"/>
<rect x="342.4" y="1233.2" width="10.6" height="10.6" fill="#231f20"/>
<rect x="358.5" y="1234.7" width="10.6" height="10.6" fill="#231f20"/>
<rect x="366.7" y="1234.7" width="10.6" height="10.6" fill="#231f20"/>
<rect x="375.1" y="1246.2" width="10.6" height="10.6" fill="#231f20"/>
<rect x="334.7" y="1246.7" width="10.6" height="10.6" fill="#231f20"/>
<rect x="344.7" y="1248.7" width="10.6" height="10.6" fill="#231f20"/>
<rect x="354.7" y="1249.7" width="10.6" height="10.6" fill="#231f20"/>
<rect x="364.7" y="1250.7" width="10.6" height="10.6" fill="#231f20"/>
<rect x="339.7" y="1256.7" width="10.6" height="10.6" fill="#231f20"/>
<rect x="349.7" y="1256.7" width="10.6" height="10.6" fill="#231f20"/>
<rect x="360.7" y="1257.7" width="10.6" height="10.6" fill="#231f20"/>
<rect x="370.7" y="1256.7" width="10.6" height="10.6" fill="#231f20"/>
<rect x="343.7" y="1263.7" width="10.6" height="10.6" fill="#231f20"/>
<rect x="354.7" y="1264.2" width="10.6" height="10.6" fill="#231f20"/>
<rect x="365.7" y="1263.7" width="10.6" height="10.6" fill="#231f20"/>
<rect x="354.5" y="1282.5" width="10.6" height="10.6" fill="#231f20"/>
<path d="M436.1,1196.41 L441.35,1206.39 L430.85,1206.39Z" fill="#231f20"/>
<path d="M433.5,1209.31 L438.75,1219.29 L428.25,1219.29Z" fill="#231f20"/>
<path d="M439.3,1210.51 L444.55,1220.49 L434.05,1220.49Z" fill="#231f20"/>
<path d="M427.7,1225.91 L432.95,1235.89 L422.45,1235.89Z" fill="#231f20"/>
<path d="M433.5,1229.41 L438.75,1239.39 L428.25,1239.39Z" fill="#231f20"/>
<path d="M439.8,1224.91 L445.05,1234.89 L434.55,1234.89Z" fill="#231f20"/>
<path d="M445.3,1224.91 L450.55,1234.89 L440.05,1234.89Z" fill="#231f20"/>
<path d="M423,1257.61 L428.25,1267.59 L417.75,1267.59Z" fill="#231f20"/>
<path d="M430,1257.61 L435.25,1267.59 L424.75,1267.59Z" fill="#231f20"/>
<path d="M437.5,1257.61 L442.75,1267.59 L432.25,1267.59Z" fill="#231f20"/>
<path d="M445,1257.61 L450.25,1267.59 L439.75,1267.59Z" fill="#231f20"/>
<path d="M451,1258.01 L456.25,1267.99 L445.75,1267.99Z" fill="#231f20"/>
<path d="M428,1267.51 L433.25,1277.49 L422.75,1277.49Z" fill="#231f20"/>
<path d="M440,1267.51 L445.25,1277.49 L434.75,1277.49Z" fill="#231f20"/>
<path d="M449,1266.01 L454.25,1275.99 L443.75,1275.99Z" fill="#231f20"/>
<path d="M436.1,1287.81 L441.35,1297.79 L430.85,1297.79Z" fill="#231f20"/>
<path d="M493.1,1207.09 L498.35,1197.11 L487.85,1197.11Z" fill="#231f20"/>
<path d="M513,1213.69 L518.25,1203.71 L507.75,1203.71Z" fill="#231f20"/>
<path d="M493.1,1223.69 L498.35,1213.71 L487.85,1213.71Z" fill="#231f20"/>
<path d="M513,1227.99 L518.25,1218.01 L507.75,1218.01Z" fill="#231f20"/>
<path d="M533.9,1237.29 L539.15,1227.31 L528.65,1227.31Z" fill="#231f20"/>
<path d="M493.1,1244.99 L498.35,1235.01 L487.85,1235.01Z" fill="#231f20"/>
<path d="M513,1256.39 L518.25,1246.41 L507.75,1246.41Z" fill="#231f20"/>
<path d="M503.2,1274.99 L508.45,1265.01 L497.95,1265.01Z" fill="#231f20"/>
<path d="M523.1,1273.59 L528.35,1263.61 L517.85,1263.61Z" fill="#231f20"/>
<path d="M569.6,1219.4 L575,1224.8 L569.6,1230.2 L564.2,1224.8Z" fill="#231f20"/>
<path d="M609.9,1210.8 L615.3,1216.2 L609.9,1221.6 L604.5,1216.2Z" fill="#231f20"/>
<path d="M610.4,1227.5 L615.8,1232.9 L610.4,1238.3 L605,1232.9Z" fill="#231f20"/>
<path d="M589.7,1243.1 L595.1,1248.5 L589.7,1253.9 L584.3,1248.5Z" fill="#231f20"/>
<path d="M572.1,1249.6 L577.5,1255 L572.1,1260.4 L566.7,1255Z" fill="#231f20"/>
<path d="M580,1230.6 L585.4,1236 L580,1241.4 L574.6,1236Z" fill="#231f20"/>
<path d="M600,1230.6 L605.4,1236 L600,1241.4 L594.6,1236Z" fill="#231f20"/>
<rect x="64.1" y="1535" width="40.2" height="12.3" fill="#e9262c"/>
<rect x="60.35" y="1530.95" width="47.7" height="20" fill="none" stroke="#231f20" stroke-width="7.5"/>
<rect x="56.6" y="1548.7" width="7.4" height="10" rx="3.7" fill="#231f20"/>
<text transform="translate(127.5,1554.5)" font-size="36" text-anchor="start" font-family='"Liberation Sans", sans-serif' font-weight="bold" fill="#231f20" style="font-kerning:none" >Ctrl</text>
<line x1="230.9" y1="1545.5" x2="271.1" y2="1545.5" stroke="#e9262c" stroke-width="2.2" stroke-linecap="butt"/>
<rect x="227.15" y="1531.35" width="47.7" height="20" fill="none" stroke="#231f20" stroke-width="7.5"/>
<rect x="223.4" y="1549.1" width="7.4" height="10" rx="3.7" fill="#231f20"/>
<text transform="translate(295,1554.8)" font-size="36" text-anchor="start" font-family='"Liberation Sans", sans-serif' font-weight="bold" fill="#231f20" style="font-kerning:none" >Tert 5 mg/kg</text>
<line x1="546.4" y1="1535.8" x2="546.4" y2="1548.1" stroke="#e9262c" stroke-width="2.3" stroke-linecap="butt"/>
<line x1="561.7" y1="1535.8" x2="561.7" y2="1548.1" stroke="#e9262c" stroke-width="2.3" stroke-linecap="butt"/>
<rect x="530.95" y="1531.75" width="47.7" height="20" fill="none" stroke="#231f20" stroke-width="7.5"/>
<rect x="527.2" y="1549.5" width="7.4" height="10" rx="3.7" fill="#231f20"/>
<text transform="translate(597.5,1555.3)" font-size="36" text-anchor="start" font-family='"Liberation Sans", sans-serif' font-weight="bold" fill="#231f20" style="font-kerning:none" >Atro 0.5 mg/kg</text>
<rect x="71.3" y="1621.15" width="2.8" height="2.8" fill="#e9262c"/>
<rect x="82.1" y="1621.15" width="2.8" height="2.8" fill="#e9262c"/>
<rect x="92.9" y="1621.15" width="2.8" height="2.8" fill="#e9262c"/>
<rect x="102.2" y="1621.15" width="2.8" height="2.8" fill="#e9262c"/>
<rect x="60.55" y="1612.35" width="47.7" height="20" fill="none" stroke="#231f20" stroke-width="7.5"/>
<rect x="56.8" y="1630.1" width="7.4" height="10" rx="3.7" fill="#231f20"/>
<text transform="translate(128.8,1635.2)" font-size="36" text-anchor="start" font-family='"Liberation Sans", sans-serif' font-weight="bold" fill="#231f20" style="font-kerning:none" >Iso 0.1 mg/kg</text>
<g clip-path="url(#c15)"><line x1="372.5" y1="1616.6" x2="452.7" y2="1536.4" stroke="#e9262c" stroke-width="2.5"/><line x1="372.5" y1="1629.5" x2="452.7" y2="1549.3" stroke="#e9262c" stroke-width="2.5"/><line x1="372.5" y1="1642.4" x2="452.7" y2="1562.2" stroke="#e9262c" stroke-width="2.5"/><line x1="372.5" y1="1655.3" x2="452.7" y2="1575.1" stroke="#e9262c" stroke-width="2.5"/><line x1="372.5" y1="1668.2" x2="452.7" y2="1588" stroke="#e9262c" stroke-width="2.5"/><line x1="372.5" y1="1681.1" x2="452.7" y2="1600.9" stroke="#e9262c" stroke-width="2.5"/><line x1="372.5" y1="1694" x2="452.7" y2="1613.8" stroke="#e9262c" stroke-width="2.5"/><line x1="372.5" y1="1706.9" x2="452.7" y2="1626.7" stroke="#e9262c" stroke-width="2.5"/><line x1="372.5" y1="1719.8" x2="452.7" y2="1639.6" stroke="#e9262c" stroke-width="2.5"/><line x1="372.5" y1="1732.7" x2="452.7" y2="1652.5" stroke="#e9262c" stroke-width="2.5"/><line x1="372.5" y1="1745.6" x2="452.7" y2="1665.4" stroke="#e9262c" stroke-width="2.5"/></g>
<rect x="388.75" y="1612.35" width="47.7" height="20" fill="none" stroke="#231f20" stroke-width="7.5"/>
<rect x="385" y="1630.1" width="7.4" height="10" rx="3.7" fill="#231f20"/>
<text transform="translate(455,1635.8)" font-size="36" text-anchor="start" font-family='"Liberation Sans", sans-serif' font-weight="bold" fill="#231f20" style="font-kerning:none" >Theo 10 mg/kg</text>
<text transform="translate(1176,73)" font-size="36" text-anchor="start" font-family='"Liberation Sans", sans-serif' font-weight="bold" fill="#231f20" style="font-kerning:none" >Ctrl</text>
<text transform="translate(1114,408.9)" font-size="36" text-anchor="start" font-family='"Liberation Sans", sans-serif' font-weight="bold" fill="#231f20" style="font-kerning:none" >Tert 5 mg/kg</text>
<text transform="translate(1117,745.4)" font-size="36" text-anchor="start" font-family='"Liberation Sans", sans-serif' font-weight="bold" fill="#231f20" style="font-kerning:none" >Iso 0.1 mg/kg</text>
<text transform="translate(1111.5,1079.5)" font-size="36" text-anchor="start" font-family='"Liberation Sans", sans-serif' font-weight="bold" fill="#231f20" style="font-kerning:none" >Atro 0.5 mg/kg</text>
<text transform="translate(1114,1440.4)" font-size="36" text-anchor="start" font-family='"Liberation Sans", sans-serif' font-weight="bold" fill="#231f20" style="font-kerning:none" >Theo 10 mg/kg</text>
<rect x="1366.4" y="1729.1" width="123" height="6.8" fill="#231f20"/>
<text transform="translate(1425.6,1764.4)" font-size="21.5" text-anchor="middle" font-family='"Liberation Serif", serif' font-weight="bold" fill="#231f20" style="font-kerning:none" >500 ms</text>
<path d="M973.00,240.38 L973.70,241.60 L974.10,252.60 L974.50,126.80 L975.00,272.60 L975.50,256.60 L976.00,238.60 L976.50,246.60 L976.90,238.01 L977.90,240.84 L978.90,244.46 L979.90,247.26 L980.90,247.42 L981.90,246.74 L982.90,245.62 L983.90,243.89 L984.90,242.41 L985.90,241.82 L986.90,241.18 L987.90,241.01 L988.90,240.49 L989.90,240.48 L990.90,240.65 L991.90,240.46 L992.90,240.78 L993.90,240.95 L994.90,240.53 L995.90,240.27 L996.90,240.43 L997.90,240.76 L998.90,240.49 L999.90,238.97 L1000.90,240.09 L1001.90,236.63 L1002.90,238.87 L1003.90,240.33 L1004.90,240.44 L1005.90,240.34 L1006.90,240.28 L1007.90,240.24 L1008.90,240.36 L1009.90,240.33 L1010.90,240.15 L1011.90,240.53 L1012.90,240.59 L1013.90,240.68 L1014.20,241.60 L1014.60,252.60 L1015.00,109.00 L1015.50,277.60 L1016.00,256.60 L1016.50,238.60 L1017.00,246.60 L1017.40,237.79 L1018.40,240.85 L1019.40,244.83 L1020.40,247.25 L1021.40,247.35 L1022.40,246.74 L1023.40,245.57 L1024.40,244.37 L1025.40,242.93 L1026.40,242.13 L1027.40,241.50 L1028.40,240.93 L1029.40,240.80 L1030.40,240.92 L1031.40,240.99 L1032.40,240.83 L1033.40,240.79 L1034.40,240.44 L1035.40,240.35 L1036.40,240.62 L1037.40,239.83 L1038.40,239.29 L1039.40,240.47 L1040.40,240.66 L1041.40,240.74 L1042.40,240.61 L1043.40,240.57 L1044.40,240.59 L1045.40,240.76 L1046.40,240.71 L1047.40,240.60 L1048.40,240.59 L1049.40,240.31 L1050.40,240.15 L1051.40,240.45 L1052.40,240.80 L1053.40,240.78 L1054.40,240.64 L1055.40,240.43 L1056.40,240.50 L1057.40,240.83 L1058.40,240.90 L1059.40,240.80 L1060.40,240.94 L1061.40,240.64 L1062.40,240.63 L1063.40,240.89 L1064.40,240.82 L1065.40,240.71 L1066.40,240.53 L1067.40,240.58 L1068.40,240.87 L1069.40,240.46 L1070.40,240.69 L1071.40,240.84 L1072.40,240.98 L1073.40,240.97 L1074.40,241.01 L1075.40,240.86 L1076.40,240.79 L1077.40,240.67 L1078.40,240.38 L1079.40,240.67 L1080.40,238.63 L1081.40,236.51 L1082.40,241.52 L1083.40,240.58 L1084.40,240.48 L1085.40,240.44 L1086.40,240.53 L1087.40,240.63 L1088.40,240.69 L1089.40,240.63 L1090.40,240.33 L1091.40,240.28 L1092.40,240.21 L1093.10,241.60 L1093.50,252.60 L1093.90,115.10 L1094.40,278.60 L1094.90,256.60 L1095.40,238.60 L1095.90,246.60 L1096.30,237.75 L1097.30,240.75 L1098.30,244.73 L1099.30,247.60 L1100.30,247.85 L1101.30,246.76 L1102.30,245.66 L1103.30,244.26 L1104.30,242.66 L1105.30,241.48 L1106.30,240.72 L1107.30,240.74 L1108.30,240.48 L1109.30,240.26 L1110.30,240.46 L1111.30,240.29 L1112.30,236.16 L1113.30,239.25 L1114.30,240.36 L1115.30,240.26 L1116.30,240.26 L1117.30,240.52 L1118.30,240.53 L1119.30,240.45 L1120.30,240.49 L1121.30,240.25 L1122.30,240.32 L1123.30,240.39 L1124.30,240.28 L1124.50,241.60 L1124.90,252.60 L1125.30,112.60 L1125.80,277.80 L1126.30,256.60 L1126.80,238.60 L1127.30,246.60 L1127.70,237.50 L1128.70,240.63 L1129.70,244.48 L1130.70,247.10 L1131.70,247.42 L1132.70,246.84 L1133.70,245.22 L1134.70,243.60 L1135.70,242.31 L1136.70,241.69 L1137.70,240.93 L1138.70,240.83 L1139.70,240.79 L1140.70,240.71 L1141.70,240.49 L1142.70,240.81 L1143.70,240.91 L1144.70,240.79 L1145.70,239.62 L1146.70,236.58 L1147.70,240.44 L1148.70,240.63 L1149.70,240.51 L1150.70,240.62 L1151.70,240.35 L1152.70,240.33 L1153.70,240.72 L1154.70,240.90 L1155.70,240.66 L1156.70,240.85 L1157.70,240.64 L1158.70,240.89 L1158.50,241.60 L1158.90,252.60 L1159.30,125.90 L1159.80,275.30 L1160.30,256.60 L1160.80,238.60 L1161.30,246.60 L1161.70,238.25 L1162.70,240.78 L1163.70,244.42 L1164.70,246.94 L1165.70,247.49 L1166.70,246.41 L1167.70,245.44 L1168.70,244.31 L1169.70,242.98 L1170.70,241.76 L1171.70,241.40 L1172.70,241.28 L1173.70,241.07 L1174.70,240.86 L1175.70,240.67 L1176.70,240.55 L1177.70,240.01 L1178.70,236.08 L1179.70,240.17 L1180.70,240.38 L1181.70,240.23 L1182.70,240.48 L1183.70,240.41 L1184.70,240.48 L1185.70,240.43 L1186.70,240.72 L1187.70,240.91 L1188.70,240.50 L1189.70,240.36 L1190.70,240.35 L1190.70,241.60 L1191.10,252.60 L1191.50,106.30 L1192.00,279.50 L1192.50,256.60 L1193.00,238.60 L1193.50,246.60 L1193.90,238.07 L1194.90,240.90 L1195.90,244.54 L1196.90,247.14 L1197.90,247.48 L1198.90,246.89 L1199.90,245.80 L1200.90,244.15 L1201.90,243.07 L1202.90,242.13 L1203.90,241.39 L1204.90,241.28 L1205.90,240.79 L1206.90,240.82 L1207.90,240.47 L1208.90,240.32 L1209.90,240.68 L1210.90,240.47 L1211.90,240.68 L1212.90,240.71 L1213.90,240.87 L1214.90,240.68 L1215.90,239.94 L1216.90,236.06 L1217.90,240.50 L1218.90,240.74 L1219.90,240.96 L1220.90,241.05 L1221.90,240.65 L1222.90,240.66 L1223.90,240.40 L1224.90,240.20 L1225.90,240.11 L1226.90,240.52 L1227.90,240.73 L1228.90,240.87 L1228.80,241.60 L1229.20,252.60 L1229.60,125.60 L1230.10,275.00 L1230.60,256.60 L1231.10,238.60 L1231.60,246.60 L1232.00,238.00 L1233.00,240.75 L1234.00,244.72 L1235.00,247.34 L1236.00,247.54 L1237.00,246.56 L1238.00,245.09 L1239.00,243.68 L1240.00,242.80 L1241.00,241.89 L1242.00,241.51 L1243.00,241.03 L1244.00,240.67 L1245.00,240.79 L1246.00,240.90 L1247.00,240.48 L1248.00,240.63 L1249.00,240.37 L1250.00,240.23 L1251.00,240.57 L1252.00,237.30 L1253.00,238.43 L1254.00,240.69 L1255.00,240.61 L1256.00,240.38 L1257.00,240.27 L1258.00,240.25 L1259.00,240.53 L1260.00,240.32 L1261.00,240.68 L1262.00,240.57 L1263.00,240.87 L1264.00,241.01 L1264.40,241.60 L1264.80,252.60 L1265.20,105.70 L1265.70,279.50 L1266.20,256.60 L1266.70,238.60 L1267.20,246.60 L1267.60,238.05 L1268.60,240.56 L1269.60,244.43 L1270.60,247.00 L1271.60,247.39 L1272.60,246.35 L1273.60,244.92 L1274.60,244.01 L1275.60,242.64 L1276.60,241.81 L1277.60,241.18 L1278.60,240.75 L1279.60,240.37 L1280.60,240.68 L1281.60,240.92 L1282.60,241.07 L1283.60,240.65 L1284.60,240.46 L1285.60,240.20 L1286.60,236.38 L1287.60,240.41 L1288.60,240.83 L1289.60,240.83 L1290.60,240.60 L1291.60,240.62 L1292.60,240.50 L1293.60,240.39 L1294.60,240.22 L1295.60,240.24 L1296.60,240.67 L1297.60,240.61 L1298.60,240.70 L1298.60,241.60 L1299.00,252.60 L1299.40,124.90 L1299.90,274.30 L1300.40,256.60 L1300.90,238.60 L1301.40,246.60 L1301.80,238.07 L1302.80,240.99 L1303.80,244.63 L1304.80,247.25 L1305.80,247.34 L1306.80,246.49 L1307.80,245.51 L1308.80,244.30 L1309.80,242.82 L1310.80,241.76 L1311.80,241.21 L1312.80,240.92 L1313.80,240.80 L1314.80,240.54 L1315.80,240.26 L1316.80,240.24 L1317.80,240.13 L1318.80,240.35 L1319.80,240.19 L1320.80,240.10 L1321.80,240.15 L1322.80,235.95 L1323.80,240.01 L1324.80,240.61 L1325.80,240.82 L1326.80,240.53 L1327.80,240.56 L1328.80,240.75 L1329.80,240.44 L1330.80,240.77 L1331.80,240.51 L1332.80,240.71 L1333.80,240.96 L1334.80,241.01 L1334.90,241.60 L1335.30,252.60 L1335.70,115.50 L1336.20,277.80 L1336.70,256.60 L1337.20,238.60 L1337.70,246.60 L1338.10,238.06 L1339.10,240.49 L1340.10,244.40 L1341.10,247.48 L1342.10,247.46 L1343.10,246.91 L1344.10,245.33 L1345.10,244.21 L1346.10,242.60 L1347.10,241.62 L1348.10,241.34 L1349.10,241.14 L1350.10,241.11 L1351.10,241.08 L1352.10,241.03 L1353.10,240.97 L1354.10,240.62 L1355.10,238.72 L1356.10,237.35 L1357.10,240.56 L1358.10,240.70 L1359.10,240.51 L1360.10,240.29 L1361.10,240.69 L1362.10,240.84 L1363.10,240.77 L1364.10,240.73 L1365.10,240.89 L1366.10,240.74 L1367.10,240.62 L1367.70,241.60 L1368.10,252.60 L1368.50,119.00 L1369.00,276.00 L1369.50,256.60 L1370.00,238.60 L1370.50,246.60 L1370.90,237.85 L1371.90,240.45 L1372.90,244.08 L1373.90,247.12 L1374.90,247.32 L1375.90,246.63 L1376.90,245.12 L1377.90,243.75 L1378.90,242.39 L1379.90,241.38 L1380.90,240.81 L1381.90,240.83 L1382.90,240.62 L1383.90,240.53 L1384.90,240.61 L1385.90,240.44 L1386.90,240.21 L1387.90,240.38 L1388.90,240.47 L1389.90,240.61 L1390.90,239.64 L1391.90,236.62 L1392.90,240.67 L1393.90,240.56 L1394.90,240.57 L1395.90,240.57 L1396.90,240.42 L1397.90,240.44 L1398.90,240.54 L1399.90,240.81 L1400.90,240.98 L1401.90,240.69 L1402.90,240.74 L1403.90,240.41 L1403.70,241.60 L1404.10,252.60 L1404.50,131.20 L1405.00,272.20 L1405.50,256.60 L1406.00,238.60 L1406.50,246.60 L1406.90,237.56 L1407.90,240.43 L1408.90,244.58 L1409.90,247.13 L1410.90,247.53 L1411.90,246.95 L1412.90,245.46 L1413.90,244.15 L1414.90,243.06 L1415.90,241.93 L1416.90,241.40 L1417.90,241.13 L1418.90,240.92 L1419.90,240.98 L1420.90,241.05 L1421.90,241.14 L1422.90,240.97 L1423.90,240.63 L1424.90,240.47 L1425.90,240.35 L1426.90,240.49 L1427.90,240.69 L1428.90,239.46 L1429.90,236.50 L1430.90,240.59 L1431.90,240.58 L1432.90,240.60 L1433.90,240.40 L1434.90,240.62 L1435.90,240.33 L1436.90,240.73 L1437.90,240.86 L1438.90,240.83 L1439.90,240.60 L1440.90,240.85 L1441.90,241.02 L1441.70,241.60 L1442.10,252.60 L1442.50,110.20 L1443.00,277.40 L1443.50,256.60 L1444.00,238.60 L1444.50,246.60 L1444.90,237.97 L1445.90,240.83 L1446.90,244.80 L1447.90,247.56 L1448.90,247.75 L1449.90,246.81 L1450.90,245.75 L1451.90,244.49 L1452.90,242.98 L1453.90,242.14 L1454.90,241.37 L1455.90,240.77 L1456.90,240.54 L1457.90,240.31 L1458.90,240.66 L1459.90,240.91 L1460.90,240.56 L1461.90,240.63 L1462.90,240.56 L1463.90,240.35" fill="none" stroke="#231f20" stroke-width="1.3" stroke-linejoin="round"/>
<path d="M972.80,587.23 L973.60,587.78 L974.40,587.04 L975.20,586.93 L976.00,588.11 L975.80,589.30 L976.20,598.30 L976.60,480.60 L977.10,610.50 L977.60,602.30 L978.10,586.30 L978.60,594.30 L979.00,582.47 L979.80,582.75 L980.60,587.75 L981.40,590.59 L982.20,592.23 L983.00,593.63 L983.80,593.63 L984.60,593.65 L985.40,593.46 L986.20,593.62 L987.00,593.85 L987.80,593.65 L988.60,592.72 L989.40,591.88 L990.20,590.98 L991.00,588.72 L991.80,583.53 L992.60,589.02 L993.40,589.25 L994.20,589.14 L995.00,589.74 L995.80,589.48 L996.60,589.37 L997.40,588.85 L998.20,588.27 L999.00,588.40 L999.80,588.20 L1000.60,588.62 L1001.40,589.51 L1002.20,589.50 L1003.00,588.80 L1003.80,589.45 L1004.60,589.64 L1004.70,590.00 L1005.10,599.00 L1005.50,473.60 L1006.00,611.50 L1006.50,603.00 L1007.00,587.00 L1007.50,595.00 L1007.90,582.88 L1008.70,583.29 L1009.50,588.65 L1010.30,591.30 L1011.10,592.23 L1011.90,594.19 L1012.70,595.03 L1013.50,593.98 L1014.30,594.13 L1015.10,593.95 L1015.90,593.26 L1016.70,592.77 L1017.50,592.21 L1018.30,592.29 L1019.10,591.51 L1019.90,590.58 L1020.70,584.50 L1021.50,589.84 L1022.30,590.64 L1023.10,589.95 L1023.90,589.69 L1024.70,590.01 L1025.50,589.87 L1026.30,589.44 L1027.10,588.85 L1027.90,588.69 L1028.70,589.13 L1029.50,588.60 L1030.30,589.37 L1031.10,588.86 L1031.90,589.51 L1032.70,588.99 L1033.50,589.63 L1033.70,590.00 L1034.10,599.00 L1034.50,480.60 L1035.00,612.20 L1035.50,603.00 L1036.00,587.00 L1036.50,595.00 L1036.90,582.83 L1037.70,582.71 L1038.50,588.01 L1039.30,590.79 L1040.10,592.30 L1040.90,593.28 L1041.70,593.52 L1042.50,593.71 L1043.30,594.24 L1044.10,593.87 L1044.90,592.68 L1045.70,592.88 L1046.50,592.59 L1047.30,592.45 L1048.10,591.15 L1048.90,590.27 L1049.70,583.92 L1050.50,589.21 L1051.30,589.44 L1052.10,589.00 L1052.90,589.62 L1053.70,588.82 L1054.50,588.96 L1055.30,589.47 L1056.10,588.86 L1056.90,588.50 L1057.70,589.24 L1058.50,588.96 L1059.30,589.23 L1060.10,588.40 L1060.90,588.43 L1061.70,588.17 L1062.50,588.74 L1062.70,589.80 L1063.10,598.80 L1063.50,486.50 L1064.00,608.70 L1064.50,602.80 L1065.00,586.80 L1065.50,594.80 L1065.90,581.34 L1066.70,582.43 L1067.50,587.02 L1068.30,590.21 L1069.10,591.02 L1069.90,592.34 L1070.70,593.66 L1071.50,593.02 L1072.30,592.57 L1073.10,592.83 L1073.90,592.27 L1074.70,591.24 L1075.50,591.77 L1076.30,590.59 L1077.10,589.60 L1077.90,589.17 L1078.70,584.82 L1079.50,586.64 L1080.30,588.36 L1081.10,588.11 L1081.90,587.45 L1082.70,587.64 L1083.50,588.13 L1084.30,588.30 L1085.10,588.58 L1085.90,588.49 L1086.70,588.57 L1087.50,588.38 L1088.30,587.94 L1089.10,587.36 L1089.90,587.67 L1090.70,587.34 L1091.50,586.86 L1092.30,587.11 L1092.00,588.50 L1092.40,597.50 L1092.80,493.50 L1093.30,604.50 L1093.80,601.50 L1094.30,585.50 L1094.80,593.50 L1095.20,581.06 L1096.00,580.55 L1096.80,586.30 L1097.60,588.85 L1098.40,590.52 L1099.20,591.47 L1100.00,592.99 L1100.80,592.43 L1101.60,592.51 L1102.40,592.10 L1103.20,591.12 L1104.00,591.15 L1104.80,590.36 L1105.60,589.62 L1106.40,589.01 L1107.20,588.71 L1108.00,586.39 L1108.80,583.49 L1109.60,588.49 L1110.40,589.34 L1111.20,589.53 L1112.00,589.70 L1112.80,588.70 L1113.60,588.51 L1114.40,588.15 L1115.20,588.46 L1116.00,588.67 L1116.80,589.04 L1117.60,589.12 L1118.40,588.54 L1119.20,588.49 L1120.00,588.63 L1120.80,587.99 L1121.60,587.72 L1121.60,589.76 L1122.00,598.76 L1122.40,475.40 L1122.90,609.80 L1123.40,602.76 L1123.90,586.76 L1124.40,594.76 L1124.80,581.42 L1125.60,581.38 L1126.40,587.57 L1127.20,589.94 L1128.00,591.14 L1128.80,592.48 L1129.60,593.12 L1130.40,593.07 L1131.20,593.31 L1132.00,593.16 L1132.80,592.64 L1133.60,592.59 L1134.40,591.71 L1135.20,592.01 L1136.00,592.01 L1136.80,591.48 L1137.60,589.35 L1138.40,584.38 L1139.20,589.49 L1140.00,589.03 L1140.80,589.01 L1141.60,589.11 L1142.40,588.66 L1143.20,588.29 L1144.00,589.08 L1144.80,588.86 L1145.60,588.96 L1146.40,589.57 L1147.20,589.44 L1148.00,588.92 L1148.80,589.64 L1149.60,589.14 L1150.40,588.39 L1151.20,588.95 L1151.30,590.00 L1151.70,599.00 L1152.10,483.40 L1152.60,610.80 L1153.10,603.00 L1153.60,587.00 L1154.10,595.00 L1154.50,581.64 L1155.30,581.83 L1156.10,588.03 L1156.90,590.82 L1157.70,591.51 L1158.50,593.08 L1159.30,593.71 L1160.10,593.76 L1160.90,593.25 L1161.70,593.32 L1162.50,592.40 L1163.30,591.99 L1164.10,591.65 L1164.90,592.02 L1165.70,590.77 L1166.50,590.90 L1167.30,588.72 L1168.10,584.15 L1168.90,589.10 L1169.70,589.40 L1170.50,589.66 L1171.30,589.24 L1172.10,588.62 L1172.90,588.29 L1173.70,588.05 L1174.50,589.00 L1175.30,589.17 L1176.10,589.70 L1176.90,589.59 L1177.70,588.59 L1178.50,588.98 L1179.30,589.34 L1180.10,589.44 L1180.90,589.17 L1181.00,589.90 L1181.40,598.90 L1181.80,484.10 L1182.30,609.80 L1182.80,602.90 L1183.30,586.90 L1183.80,594.90 L1184.20,582.03 L1185.00,582.17 L1185.80,588.06 L1186.60,590.20 L1187.40,591.83 L1188.20,593.19 L1189.00,594.43 L1189.80,594.47 L1190.60,594.51 L1191.40,594.19 L1192.20,593.03 L1193.00,592.10 L1193.80,591.73 L1194.60,590.97 L1195.40,590.59 L1196.20,590.55 L1197.00,590.42 L1197.80,584.84 L1198.60,588.13 L1199.40,588.93 L1200.20,588.67 L1201.00,589.37 L1201.80,588.50 L1202.60,588.40 L1203.40,587.84 L1204.20,587.57 L1205.00,588.55 L1205.80,589.16 L1206.60,588.97 L1207.40,588.13 L1208.20,587.93 L1209.00,587.73 L1209.80,588.23 L1210.60,588.48 L1211.00,589.20 L1211.40,598.20 L1211.80,487.60 L1212.30,608.70 L1212.80,602.20 L1213.30,586.20 L1213.80,594.20 L1214.20,581.38 L1215.00,581.54 L1215.80,586.38 L1216.60,589.32 L1217.40,591.56 L1218.20,593.01 L1219.00,592.69 L1219.80,592.75 L1220.60,592.89 L1221.40,592.10 L1222.20,592.36 L1223.00,591.61 L1223.80,591.31 L1224.60,590.48 L1225.40,590.66 L1226.20,590.24 L1227.00,589.30 L1227.80,583.18 L1228.60,586.28 L1229.40,587.43 L1230.20,587.77 L1231.00,588.28 L1231.80,587.52 L1232.60,587.58 L1233.40,587.55 L1234.20,587.42 L1235.00,587.77 L1235.80,588.25 L1236.60,588.17 L1237.40,587.80 L1238.20,588.30 L1239.00,587.66 L1239.80,587.92 L1240.60,587.93 L1241.00,588.50 L1241.40,597.50 L1241.80,469.40 L1242.30,609.80 L1242.80,601.50 L1243.30,585.50 L1243.80,593.50 L1244.20,581.33 L1245.00,581.71 L1245.80,586.38 L1246.60,589.21 L1247.40,590.54 L1248.20,592.20 L1249.00,593.37 L1249.80,593.12 L1250.60,591.98 L1251.40,591.86 L1252.20,591.91 L1253.00,591.94 L1253.80,591.39 L1254.60,591.11 L1255.40,589.64 L1256.20,590.02 L1257.00,589.49 L1257.80,584.03 L1258.60,587.49 L1259.40,589.38 L1260.20,588.23 L1261.00,588.62 L1261.80,588.73 L1262.60,587.99 L1263.40,588.39 L1264.20,588.37 L1265.00,587.82 L1265.80,588.41 L1266.60,587.79 L1267.40,588.16 L1268.20,588.10 L1269.00,587.84 L1269.80,588.16 L1270.60,588.19 L1271.00,589.34 L1271.40,598.34 L1271.80,455.50 L1272.30,615.00 L1272.80,602.34 L1273.30,586.34 L1273.80,594.34 L1274.20,581.18 L1275.00,582.26 L1275.80,586.91 L1276.60,589.09 L1277.40,591.08 L1278.20,593.19 L1279.00,593.90 L1279.80,594.04 L1280.60,593.59 L1281.40,593.44 L1282.20,592.67 L1283.00,591.94 L1283.80,591.66 L1284.60,590.62 L1285.40,589.95 L1286.20,590.37 L1287.00,588.32 L1287.80,584.10 L1288.60,589.53 L1289.40,589.45 L1290.20,589.50 L1291.00,589.64 L1291.80,589.80 L1292.60,588.84 L1293.40,588.39 L1294.20,588.47 L1295.00,588.63 L1295.80,588.47 L1296.60,588.00 L1297.40,588.53 L1298.20,589.37 L1299.00,588.96 L1299.80,588.99 L1300.60,588.79 L1300.70,589.93 L1301.10,598.93 L1301.50,449.20 L1302.00,616.70 L1302.50,602.93 L1303.00,586.93 L1303.50,594.93 L1303.90,582.03 L1304.70,582.79 L1305.50,587.74 L1306.30,590.63 L1307.10,592.06 L1307.90,593.46 L1308.70,594.59 L1309.50,593.62 L1310.30,594.04 L1311.10,593.31 L1311.90,593.20 L1312.70,593.10 L1313.50,592.59 L1314.30,591.73 L1315.10,591.70 L1315.90,590.44 L1316.70,589.11 L1317.50,584.10 L1318.30,589.28 L1319.10,590.04 L1319.90,590.05 L1320.70,589.78 L1321.50,589.17 L1322.30,588.74 L1323.10,588.82 L1323.90,588.54 L1324.70,588.46 L1325.50,589.37 L1326.30,588.64 L1327.10,589.27 L1327.90,588.96 L1328.70,588.79 L1329.50,588.64 L1330.30,588.23 L1330.40,590.00 L1330.80,599.00 L1331.20,453.40 L1331.70,617.40 L1332.20,603.00 L1332.70,587.00 L1333.20,595.00 L1333.60,581.78 L1334.40,581.71 L1335.20,587.41 L1336.00,589.98 L1336.80,592.33 L1337.60,594.15 L1338.40,594.29 L1339.20,594.28 L1340.00,594.52 L1340.80,593.60 L1341.60,592.58 L1342.40,592.02 L1343.20,591.41 L1344.00,591.55 L1344.80,590.97 L1345.60,590.32 L1346.40,586.11 L1347.20,587.07 L1348.00,590.07 L1348.80,589.91 L1349.60,589.44 L1350.40,589.75 L1351.20,589.20 L1352.00,589.66 L1352.80,589.94 L1353.60,589.49 L1354.40,589.51 L1355.20,589.89 L1356.00,589.78 L1356.80,589.74 L1357.60,589.89 L1358.40,590.05 L1359.20,589.88 L1360.00,590.11 L1359.70,590.00 L1360.10,599.00 L1360.50,456.20 L1361.00,617.10 L1361.50,603.00 L1362.00,587.00 L1362.50,595.00 L1362.90,582.49 L1363.70,582.70 L1364.50,588.23 L1365.30,590.50 L1366.10,591.89 L1366.90,592.89 L1367.70,594.38 L1368.50,593.92 L1369.30,593.71 L1370.10,593.99 L1370.90,592.90 L1371.70,593.19 L1372.50,591.91 L1373.30,590.89 L1374.10,590.60 L1374.90,590.27 L1375.70,589.43 L1376.50,584.95 L1377.30,590.03 L1378.10,589.84 L1378.90,589.60 L1379.70,589.01 L1380.50,589.52 L1381.30,589.14 L1382.10,588.78 L1382.90,589.09 L1383.70,588.56 L1384.50,588.53 L1385.30,589.36 L1386.10,588.61 L1386.90,588.31 L1387.70,588.24 L1388.50,588.27 L1389.30,588.52 L1389.40,590.00 L1389.80,599.00 L1390.20,448.10 L1390.70,617.80 L1391.20,603.00 L1391.70,587.00 L1392.20,595.00 L1392.60,581.64 L1393.40,581.88 L1394.20,587.22 L1395.00,589.82 L1395.80,591.85 L1396.60,593.09 L1397.40,593.66 L1398.20,594.14 L1399.00,593.24 L1399.80,592.70 L1400.60,593.19 L1401.40,592.59 L1402.20,592.52 L1403.00,591.34 L1403.80,591.07 L1404.60,591.18 L1405.40,588.42 L1406.20,585.13 L1407.00,589.87 L1407.80,589.60 L1408.60,590.11 L1409.40,589.48 L1410.20,589.25 L1411.00,589.32 L1411.80,588.92 L1412.60,589.44 L1413.40,589.36 L1414.20,589.31 L1415.00,589.21 L1415.80,589.78 L1416.60,590.08 L1417.40,590.02 L1418.20,589.44 L1419.00,589.10 L1419.00,590.00 L1419.40,599.00 L1419.80,462.10 L1420.30,616.70 L1420.80,603.00 L1421.30,587.00 L1421.80,595.00 L1422.20,582.31 L1423.00,581.81 L1423.80,586.99 L1424.60,590.76 L1425.40,591.64 L1426.20,593.83 L1427.00,594.46 L1427.80,594.75 L1428.60,593.56 L1429.40,593.09 L1430.20,593.31 L1431.00,592.06 L1431.80,591.32 L1432.60,591.04 L1433.40,590.43 L1434.20,589.89 L1435.00,590.17 L1435.80,587.44 L1436.60,584.82 L1437.40,589.68 L1438.20,588.96 L1439.00,589.62 L1439.80,588.99 L1440.60,589.00 L1441.40,589.10 L1442.20,588.55 L1443.00,588.79 L1443.80,588.28 L1444.60,588.22 L1445.40,589.20 L1446.20,589.55 L1447.00,589.31 L1447.80,589.41 L1448.60,589.74 L1449.40,588.88 L1449.40,590.04 L1449.80,599.04 L1450.20,453.00 L1450.70,617.80 L1451.20,603.04 L1451.70,587.04 L1452.20,595.04 L1452.60,582.31 L1453.40,582.09 L1454.20,587.39 L1455.00,590.07 L1455.80,591.90 L1456.60,593.35 L1457.40,594.36 L1458.20,594.89 L1459.00,595.49 L1459.80,596.03 L1460.60,596.21 L1461.40,595.80 L1462.20,595.01 L1463.00,594.86 L1463.80,593.37 L1464.60,592.20 L1465.40,592.28" fill="none" stroke="#231f20" stroke-width="1.3" stroke-linejoin="round"/>
<path d="M970.50,876.66 L971.30,876.61 L972.10,877.42 L972.90,878.80 L973.70,879.88 L974.50,880.12 L975.30,880.11 L976.10,880.54 L976.90,880.42 L977.70,880.34 L978.00,879.60 L978.65,767.50 L979.15,958.40 L979.70,887.60 L980.10,871.60 L980.70,892.60 L981.30,884.60 L981.70,880.84 L982.50,883.28 L983.30,889.55 L984.10,895.95 L984.90,895.84 L985.70,891.69 L986.50,886.82 L987.30,882.99 L988.10,880.39 L988.90,878.99 L989.70,877.98 L990.50,876.77 L991.30,876.27 L992.10,875.84 L992.90,875.55 L993.70,875.51 L994.50,876.37 L995.30,877.07 L996.10,878.00 L996.90,878.94 L997.70,879.60 L998.50,880.22 L999.30,880.32 L1000.10,880.64 L1000.90,880.62 L1001.10,879.60 L1001.75,774.40 L1002.25,967.10 L1002.80,887.60 L1003.20,871.60 L1003.80,892.60 L1004.40,884.60 L1004.80,881.05 L1005.60,883.65 L1006.40,889.32 L1007.20,895.62 L1008.00,895.39 L1008.80,891.90 L1009.60,886.83 L1010.40,882.85 L1011.20,880.17 L1012.00,878.72 L1012.80,877.65 L1013.60,876.74 L1014.40,876.15 L1015.20,875.76 L1016.00,875.86 L1016.80,876.09 L1017.60,876.76 L1018.40,877.53 L1019.20,878.44 L1020.00,879.08 L1020.80,879.35 L1021.60,880.04 L1022.40,880.56 L1023.20,880.85 L1024.00,880.82 L1024.80,880.88 L1025.60,880.61 L1025.90,879.60 L1026.55,769.90 L1027.05,964.70 L1027.60,887.60 L1028.00,871.60 L1028.60,892.60 L1029.20,884.60 L1029.60,880.97 L1030.40,883.47 L1031.20,889.37 L1032.00,895.66 L1032.80,895.88 L1033.60,892.30 L1034.40,886.98 L1035.20,883.18 L1036.00,880.60 L1036.80,878.95 L1037.60,877.95 L1038.40,877.43 L1039.20,877.03 L1040.00,876.29 L1040.80,876.37 L1041.60,876.40 L1042.40,877.26 L1043.20,877.99 L1044.00,879.16 L1044.80,880.23 L1045.60,880.80 L1046.40,881.57 L1047.20,881.68 L1048.00,881.63 L1048.80,881.91 L1049.60,881.73 L1050.40,881.71 L1051.20,881.80 L1052.00,881.95 L1052.80,881.74 L1053.60,881.52 L1054.40,881.85 L1055.20,881.68 L1056.00,881.93 L1056.80,882.00 L1057.60,881.69 L1058.40,881.52 L1059.20,881.42 L1060.00,881.40 L1060.80,881.15 L1061.60,876.85 L1062.40,872.88 L1063.20,880.45 L1064.00,885.48 L1064.80,885.31 L1065.60,881.34 L1066.40,880.74 L1067.20,880.60 L1068.00,880.92 L1068.80,880.83 L1069.60,880.78 L1070.40,880.43 L1071.20,880.46 L1072.00,880.57 L1072.80,880.30 L1073.60,880.49 L1074.40,880.62 L1075.20,880.35 L1076.00,880.53 L1076.80,880.54 L1076.80,879.60 L1077.45,804.80 L1077.95,960.80 L1078.50,887.60 L1078.90,871.60 L1079.50,892.60 L1080.10,884.60 L1080.50,884.24 L1081.30,888.76 L1082.10,892.81 L1082.90,892.98 L1083.70,890.93 L1084.50,888.16 L1085.30,885.73 L1086.10,883.85 L1086.90,882.12 L1087.70,881.16 L1088.50,879.85 L1089.30,874.97 L1090.10,866.78 L1090.90,865.53 L1091.70,874.94 L1092.50,883.12 L1093.30,883.22 L1094.10,880.81 L1094.90,880.67 L1095.70,880.35 L1096.50,880.49 L1097.30,880.68 L1098.10,880.53 L1098.90,880.39 L1099.70,880.66 L1100.50,880.48 L1101.30,880.34 L1102.10,880.40 L1102.90,880.60 L1103.70,880.36 L1104.50,880.35 L1104.70,879.60 L1105.35,794.30 L1105.85,970.90 L1106.40,887.60 L1106.80,871.60 L1107.40,892.60 L1108.00,884.60 L1108.40,883.92 L1109.20,888.86 L1110.00,892.71 L1110.80,892.99 L1111.60,891.02 L1112.40,888.38 L1113.20,885.85 L1114.00,883.87 L1114.80,882.25 L1115.60,881.10 L1116.40,879.53 L1117.20,874.90 L1118.00,866.64 L1118.80,865.74 L1119.60,875.34 L1120.40,883.12 L1121.20,883.20 L1122.00,881.06 L1122.80,880.74 L1123.60,880.86 L1124.40,880.67 L1125.20,880.42 L1126.00,880.37 L1126.80,880.64 L1127.60,880.48 L1128.40,880.44 L1129.20,880.45 L1130.00,880.46 L1130.80,880.46 L1131.60,880.77 L1132.40,880.50 L1132.70,879.60 L1133.35,788.40 L1133.85,962.90 L1134.40,887.60 L1134.80,871.60 L1135.40,892.60 L1136.00,884.60 L1136.40,883.81 L1137.20,888.86 L1138.00,892.97 L1138.80,893.23 L1139.60,891.33 L1140.40,888.93 L1141.20,886.34 L1142.00,883.77 L1142.80,882.37 L1143.60,881.54 L1144.40,880.12 L1145.20,875.25 L1146.00,866.90 L1146.80,865.62 L1147.60,874.90 L1148.40,882.78 L1149.20,883.19 L1150.00,880.74 L1150.80,880.65 L1151.60,880.35 L1152.40,880.69 L1153.20,880.77 L1154.00,880.96 L1154.80,881.05 L1155.60,881.11 L1156.40,880.95 L1157.20,880.52 L1158.00,880.70 L1158.80,880.46 L1159.60,880.40 L1160.40,880.58 L1160.60,879.60 L1161.25,783.90 L1161.75,965.70 L1162.30,887.60 L1162.70,871.60 L1163.30,892.60 L1163.90,884.60 L1164.30,884.17 L1165.10,888.76 L1165.90,892.95 L1166.70,892.99 L1167.50,891.13 L1168.30,888.39 L1169.10,885.98 L1169.90,883.71 L1170.70,882.35 L1171.50,881.24 L1172.30,879.66 L1173.10,874.98 L1173.90,867.06 L1174.70,865.61 L1175.50,875.24 L1176.30,883.50 L1177.10,883.75 L1177.90,881.40 L1178.70,880.56 L1179.50,880.65 L1180.30,880.85 L1181.10,880.48 L1181.90,880.39 L1182.70,880.34 L1183.50,880.46 L1184.30,880.47 L1185.10,880.50 L1185.90,880.71 L1186.70,880.37 L1187.50,880.19 L1188.30,880.13 L1188.50,879.60 L1189.15,791.20 L1189.65,967.50 L1190.20,887.60 L1190.60,871.60 L1191.20,892.60 L1191.80,884.60 L1192.20,883.66 L1193.00,888.25 L1193.80,892.66 L1194.60,892.96 L1195.40,890.96 L1196.20,888.44 L1197.00,885.68 L1197.80,883.43 L1198.60,881.93 L1199.40,881.16 L1200.20,879.84 L1201.00,874.99 L1201.80,866.69 L1202.60,865.48 L1203.40,874.76 L1204.20,882.99 L1205.00,883.39 L1205.80,880.92 L1206.60,880.32 L1207.40,880.23 L1208.20,880.30 L1209.00,880.49 L1209.80,880.70 L1210.60,880.59 L1211.40,880.77 L1212.20,880.78 L1213.00,880.67 L1213.80,880.56 L1214.60,880.58 L1215.40,880.71 L1216.20,880.62 L1216.40,879.60 L1217.05,786.60 L1217.55,959.40 L1218.10,887.60 L1218.50,871.60 L1219.10,892.60 L1219.70,884.60 L1220.10,884.30 L1220.90,888.86 L1221.70,892.59 L1222.50,892.73 L1223.30,891.18 L1224.10,888.32 L1224.90,885.67 L1225.70,883.49 L1226.50,882.28 L1227.30,881.54 L1228.10,879.95 L1228.90,875.37 L1229.70,867.28 L1230.50,865.80 L1231.30,875.15 L1232.10,882.97 L1232.90,883.43 L1233.70,881.12 L1234.50,880.92 L1235.30,880.96 L1236.10,880.92 L1236.90,880.93 L1237.70,880.84 L1238.50,880.50 L1239.30,880.60 L1240.10,880.30 L1240.90,880.21 L1241.70,880.53 L1242.50,880.28 L1243.30,880.17 L1244.10,880.10 L1244.70,879.60 L1245.35,782.10 L1245.85,963.60 L1246.40,887.60 L1246.80,871.60 L1247.40,892.60 L1248.00,884.60 L1248.40,884.10 L1249.20,888.58 L1250.00,892.29 L1250.80,892.73 L1251.60,890.84 L1252.40,888.58 L1253.20,885.98 L1254.00,883.92 L1254.80,882.58 L1255.60,881.51 L1256.40,880.18 L1257.20,875.00 L1258.00,867.04 L1258.80,865.80 L1259.60,875.31 L1260.40,883.05 L1261.20,883.44 L1262.00,881.29 L1262.80,880.53 L1263.60,880.45 L1264.40,880.55 L1265.20,880.76 L1266.00,880.54 L1266.80,880.37 L1267.60,880.31 L1268.40,880.50 L1269.20,880.69 L1270.00,880.59 L1270.80,880.52 L1271.60,880.49 L1272.40,880.44 L1272.60,879.60 L1273.25,787.70 L1273.75,968.20 L1274.30,887.60 L1274.70,871.60 L1275.30,892.60 L1275.90,884.60 L1276.30,884.03 L1277.10,888.48 L1277.90,892.51 L1278.70,892.94 L1279.50,891.14 L1280.30,888.70 L1281.10,885.74 L1281.90,883.69 L1282.70,882.33 L1283.50,881.41 L1284.30,879.96 L1285.10,875.13 L1285.90,867.05 L1286.70,866.04 L1287.50,875.11 L1288.30,882.92 L1289.10,883.37 L1289.90,881.23 L1290.70,880.77 L1291.50,880.66 L1292.30,880.77 L1293.10,880.51 L1293.90,880.41 L1294.70,880.30 L1295.50,880.47 L1296.30,880.41 L1297.10,880.33 L1297.90,880.55 L1298.70,880.84 L1299.50,880.62 L1300.30,880.74 L1300.60,879.60 L1301.25,792.20 L1301.75,958.70 L1302.30,887.60 L1302.70,871.60 L1303.30,892.60 L1303.90,884.60 L1304.30,884.20 L1305.10,889.04 L1305.90,892.90 L1306.70,892.75 L1307.50,890.91 L1308.30,888.13 L1309.10,885.59 L1309.90,883.42 L1310.70,881.81 L1311.50,880.92 L1312.30,879.54 L1313.10,875.05 L1313.90,866.70 L1314.70,865.89 L1315.50,875.22 L1316.30,883.29 L1317.10,883.42 L1317.90,881.21 L1318.70,880.94 L1319.50,880.83 L1320.30,880.73 L1321.10,880.81 L1321.90,880.94 L1322.70,880.74 L1323.50,880.83 L1324.30,881.01 L1325.10,880.83 L1325.90,880.57 L1326.70,880.43 L1327.50,880.63 L1328.30,880.72 L1328.80,879.60 L1329.45,780.70 L1329.95,963.60 L1330.50,887.60 L1330.90,871.60 L1331.50,892.60 L1332.10,884.60 L1332.50,881.05 L1333.30,883.64 L1334.10,889.40 L1334.90,895.69 L1335.70,895.46 L1336.50,891.48 L1337.30,886.74 L1338.10,882.94 L1338.90,880.58 L1339.70,878.82 L1340.50,877.99 L1341.30,876.93 L1342.10,876.17 L1342.90,875.86 L1343.70,875.43 L1344.50,875.47 L1345.30,876.33 L1346.10,876.94 L1346.90,877.71 L1347.70,878.58 L1348.50,879.36 L1349.30,879.53 L1350.10,879.87 L1350.90,880.15 L1351.20,879.60 L1351.85,752.80 L1352.35,955.90 L1352.90,887.60 L1353.30,871.60 L1353.90,892.60 L1354.50,884.60 L1354.90,884.04 L1355.70,888.56 L1356.50,892.62 L1357.30,893.00 L1358.10,891.16 L1358.90,888.59 L1359.70,885.65 L1360.50,883.39 L1361.30,882.09 L1362.10,880.93 L1362.90,879.89 L1363.70,875.34 L1364.50,866.85 L1365.30,865.94 L1366.10,875.19 L1366.90,883.38 L1367.70,883.65 L1368.50,881.02 L1369.30,880.74 L1370.10,880.77 L1370.90,880.89 L1371.70,880.63 L1372.50,880.77 L1373.30,880.98 L1374.10,880.93 L1374.90,880.82 L1375.70,880.50 L1375.60,879.60 L1376.25,783.90 L1376.75,969.20 L1377.30,887.60 L1377.70,871.60 L1378.30,892.60 L1378.90,884.60 L1379.30,884.11 L1380.10,888.69 L1380.90,892.77 L1381.70,892.92 L1382.50,891.22 L1383.30,888.41 L1384.10,885.86 L1384.90,883.73 L1385.70,882.00 L1386.50,881.35 L1387.30,880.00 L1388.10,874.94 L1388.90,867.11 L1389.70,865.62 L1390.50,874.97 L1391.30,883.21 L1392.10,883.45 L1392.90,881.06 L1393.70,880.75 L1394.50,880.66 L1395.30,880.52 L1396.10,880.36 L1396.90,880.20 L1397.70,880.49 L1398.50,880.69 L1399.30,880.68 L1400.10,880.79 L1400.90,880.63 L1401.70,880.48 L1402.50,880.46 L1403.30,880.74 L1404.10,880.41 L1404.90,880.49 L1404.90,879.60 L1405.55,793.60 L1406.05,957.70 L1406.60,887.60 L1407.00,871.60 L1407.60,892.60 L1408.20,884.60 L1408.60,880.48 L1409.40,883.25 L1410.20,889.23 L1411.00,895.68 L1411.80,895.54 L1412.60,891.74 L1413.40,886.94 L1414.20,882.75 L1415.00,880.44 L1415.80,878.65 L1416.60,877.53 L1417.40,876.52 L1418.20,875.74 L1419.00,875.63 L1419.80,875.68 L1420.60,875.68 L1421.40,876.07 L1422.20,876.85 L1423.00,877.89 L1423.80,878.83 L1424.60,879.55 L1425.40,879.99 L1426.20,880.04 L1427.00,880.23 L1427.60,879.60 L1428.25,765.70 L1428.75,962.90 L1429.30,887.60 L1429.70,871.60 L1430.30,892.60 L1430.90,884.60 L1431.30,883.92 L1432.10,888.68 L1432.90,892.68 L1433.70,892.58 L1434.50,890.83 L1435.30,888.53 L1436.10,885.56 L1436.90,883.65 L1437.70,882.38 L1438.50,881.61 L1439.30,880.00 L1440.10,875.19 L1440.90,867.05 L1441.70,865.88 L1442.50,875.51 L1443.30,883.52 L1444.10,883.46 L1444.90,881.25 L1445.70,880.76 L1446.50,880.75 L1447.30,880.83 L1448.10,880.44 L1448.90,880.66 L1449.70,880.74 L1450.50,880.68 L1451.30,880.66 L1452.10,880.61 L1452.40,879.60 L1453.05,777.60 L1453.55,964.00 L1454.10,887.60 L1454.50,871.60 L1455.10,892.60 L1455.70,884.60 L1456.10,880.52 L1456.90,883.13 L1457.70,888.97 L1458.50,895.62 L1459.30,895.65 L1460.10,891.75 L1460.90,886.82 L1461.70,883.04 L1462.50,880.64 L1463.30,878.78 L1464.10,877.92 L1464.90,877.07 L1465.70,876.03 L1466.50,875.56" fill="none" stroke="#231f20" stroke-width="1.4" stroke-linejoin="round"/>
<path d="M971.20,1265.96 L971.65,1265.66 L972.10,1266.88 L972.55,1269.40 L973.00,1266.76 L973.45,1266.38 L973.90,1265.24 L974.35,1269.92 L974.80,1270.38 L975.25,1266.67 L975.70,1268.47 L976.15,1270.39 L976.60,1265.94 L977.05,1268.59 L977.50,1266.08 L977.95,1264.91 L978.40,1269.53 L978.85,1267.14 L979.30,1268.23 L979.75,1270.13 L980.20,1268.03 L980.65,1267.62 L981.10,1266.84 L981.55,1265.32 L982.00,1268.72 L982.45,1268.23 L982.90,1265.07 L983.35,1257.46 L983.80,1260.60 L984.25,1271.96 L984.70,1275.32 L985.15,1269.76 L985.60,1266.94 L986.05,1266.97 L986.50,1268.04 L986.95,1267.62 L987.40,1267.82 L987.85,1268.81 L988.30,1269.03 L988.75,1269.04 L989.20,1267.52 L989.65,1268.30 L990.10,1268.73 L990.55,1268.64 L991.00,1267.71 L991.45,1267.39 L991.90,1268.56 L992.35,1267.34 L992.90,1271.00 L993.35,1129.30 L993.85,1301.40 L994.40,1278.00 L995.00,1270.00 L995.40,1267.52 L995.85,1270.14 L996.30,1271.29 L996.75,1273.92 L997.20,1273.93 L997.65,1272.61 L998.10,1273.44 L998.55,1274.65 L999.00,1276.86 L999.45,1274.59 L999.90,1272.75 L1000.35,1271.99 L1000.80,1270.81 L1001.25,1269.48 L1001.70,1271.93 L1002.15,1269.90 L1002.60,1265.88 L1003.05,1266.13 L1003.50,1270.07 L1003.95,1265.93 L1004.40,1267.99 L1004.85,1267.46 L1005.30,1268.84 L1005.75,1269.71 L1006.20,1266.00 L1006.65,1269.71 L1007.10,1270.90 L1007.55,1269.62 L1008.00,1269.20 L1008.45,1268.45 L1008.90,1269.11 L1009.35,1270.48 L1009.80,1266.46 L1010.25,1269.90 L1010.70,1266.27 L1011.15,1265.81 L1011.60,1268.20 L1012.05,1265.55 L1012.50,1261.03 L1012.95,1261.14 L1013.40,1268.19 L1013.85,1273.32 L1014.30,1268.64 L1014.75,1268.83 L1015.20,1268.37 L1015.65,1266.84 L1016.10,1266.99 L1016.55,1268.91 L1017.00,1268.34 L1017.45,1263.61 L1017.90,1266.85 L1018.35,1268.20 L1018.80,1267.42 L1019.25,1267.96 L1019.70,1271.51 L1020.15,1266.88 L1020.60,1267.14 L1021.05,1266.85 L1021.50,1267.64 L1021.95,1265.85 L1022.20,1271.00 L1022.65,1133.50 L1023.15,1295.50 L1023.70,1278.00 L1024.30,1270.00 L1024.70,1269.80 L1025.15,1271.19 L1025.60,1274.66 L1026.05,1272.90 L1026.50,1273.87 L1026.95,1277.10 L1027.40,1277.41 L1027.85,1277.39 L1028.30,1273.70 L1028.75,1273.00 L1029.20,1274.40 L1029.65,1270.67 L1030.10,1271.13 L1030.55,1271.27 L1031.00,1268.78 L1031.45,1270.16 L1031.90,1269.93 L1032.35,1269.25 L1032.80,1268.86 L1033.25,1269.34 L1033.70,1269.33 L1034.15,1269.15 L1034.60,1268.54 L1035.05,1267.48 L1035.50,1267.63 L1035.95,1267.26 L1036.40,1267.18 L1036.85,1267.21 L1037.30,1267.57 L1037.75,1267.61 L1038.20,1267.08 L1038.65,1268.70 L1039.10,1268.53 L1039.55,1267.64 L1040.00,1265.13 L1040.45,1268.22 L1040.90,1268.97 L1041.35,1266.12 L1041.80,1260.85 L1042.25,1260.90 L1042.70,1272.17 L1043.15,1277.04 L1043.60,1272.32 L1044.05,1270.18 L1044.50,1270.70 L1044.95,1269.21 L1045.40,1269.45 L1045.85,1266.78 L1046.30,1268.47 L1046.75,1270.63 L1047.20,1268.01 L1047.65,1266.57 L1048.10,1264.35 L1048.55,1267.36 L1049.00,1268.64 L1049.45,1271.32 L1049.90,1266.41 L1050.35,1270.94 L1050.80,1271.68 L1051.25,1267.61 L1051.50,1271.00 L1051.95,1115.40 L1052.45,1301.40 L1053.00,1278.00 L1053.60,1270.00 L1054.00,1268.12 L1054.45,1273.28 L1054.90,1275.01 L1055.35,1273.66 L1055.80,1277.93 L1056.25,1278.03 L1056.70,1276.52 L1057.15,1274.38 L1057.60,1272.90 L1058.05,1271.43 L1058.50,1270.86 L1058.95,1273.58 L1059.40,1273.18 L1059.85,1271.90 L1060.30,1271.86 L1060.75,1270.64 L1061.20,1269.94 L1061.65,1269.08 L1062.10,1267.46 L1062.55,1267.99 L1063.00,1267.08 L1063.45,1267.08 L1063.90,1268.37 L1064.35,1267.58 L1064.80,1267.66 L1065.25,1270.58 L1065.70,1271.97 L1066.15,1267.84 L1066.60,1269.07 L1067.05,1268.46 L1067.50,1268.91 L1067.95,1269.44 L1068.40,1269.15 L1068.85,1269.99 L1069.30,1269.88 L1069.75,1268.83 L1070.20,1268.69 L1070.65,1266.83 L1071.10,1264.33 L1071.55,1256.70 L1072.00,1265.82 L1072.45,1276.00 L1072.90,1273.95 L1073.35,1268.17 L1073.80,1269.62 L1074.25,1270.03 L1074.70,1269.34 L1075.15,1268.45 L1075.60,1267.52 L1076.05,1268.72 L1076.50,1268.36 L1076.95,1267.15 L1077.40,1266.22 L1077.85,1269.00 L1078.30,1266.93 L1078.75,1268.82 L1079.20,1266.59 L1079.65,1268.04 L1080.10,1266.53 L1080.55,1266.24 L1080.90,1271.00 L1081.35,1135.60 L1081.85,1299.00 L1082.40,1278.00 L1083.00,1270.00 L1083.40,1268.24 L1083.85,1271.90 L1084.30,1274.01 L1084.75,1274.52 L1085.20,1274.23 L1085.65,1277.21 L1086.10,1277.36 L1086.55,1276.43 L1087.00,1275.75 L1087.45,1272.85 L1087.90,1276.42 L1088.35,1272.01 L1088.80,1270.87 L1089.25,1272.17 L1089.70,1270.96 L1090.15,1269.73 L1090.60,1266.15 L1091.05,1270.39 L1091.50,1270.44 L1091.95,1271.82 L1092.40,1266.44 L1092.85,1270.52 L1093.30,1271.30 L1093.75,1266.20 L1094.20,1267.25 L1094.65,1265.47 L1095.10,1269.80 L1095.55,1271.81 L1096.00,1269.43 L1096.45,1271.24 L1096.90,1271.25 L1097.35,1270.33 L1097.80,1272.60 L1098.25,1267.18 L1098.70,1265.26 L1099.15,1270.40 L1099.60,1267.73 L1100.05,1264.98 L1100.50,1263.19 L1100.95,1260.84 L1101.40,1267.93 L1101.85,1276.34 L1102.30,1272.63 L1102.75,1267.30 L1103.20,1267.69 L1103.65,1268.08 L1104.10,1268.91 L1104.55,1269.11 L1105.00,1265.85 L1105.45,1266.69 L1105.90,1266.83 L1106.35,1267.31 L1106.80,1268.33 L1107.25,1267.38 L1107.70,1268.89 L1108.15,1267.24 L1108.60,1268.48 L1109.05,1269.00 L1109.50,1267.35 L1109.95,1268.30 L1110.20,1271.04 L1110.65,1141.90 L1111.15,1299.70 L1111.70,1278.04 L1112.30,1270.04 L1112.70,1268.92 L1113.15,1270.94 L1113.60,1272.82 L1114.05,1273.17 L1114.50,1276.57 L1114.95,1275.00 L1115.40,1276.25 L1115.85,1275.94 L1116.30,1275.70 L1116.75,1275.67 L1117.20,1275.14 L1117.65,1271.05 L1118.10,1274.61 L1118.55,1270.07 L1119.00,1270.42 L1119.45,1270.64 L1119.90,1269.55 L1120.35,1273.76 L1120.80,1277.81 L1121.25,1272.74 L1121.70,1274.62 L1122.15,1273.86 L1122.60,1272.36 L1123.05,1271.59 L1123.50,1277.29 L1123.95,1274.02 L1124.40,1279.10 L1124.85,1288.36 L1125.30,1277.31 L1125.75,1283.82 L1126.20,1282.79 L1126.65,1276.60 L1127.10,1285.71 L1127.55,1283.09 L1128.00,1285.35 L1128.45,1288.44 L1128.90,1283.13 L1129.35,1282.57 L1129.80,1280.03 L1130.25,1273.79 L1130.70,1282.87 L1131.15,1286.50 L1131.60,1288.33 L1132.05,1278.50 L1132.50,1283.99 L1132.95,1275.33 L1133.40,1273.25 L1133.85,1276.28 L1134.30,1278.80 L1134.75,1278.97 L1135.20,1277.94 L1135.65,1273.08 L1136.10,1272.33 L1136.55,1277.29 L1137.00,1274.77 L1137.45,1275.99 L1137.90,1276.54 L1138.35,1278.96 L1138.80,1277.91 L1139.25,1274.87 L1139.50,1277.30 L1139.95,1117.10 L1140.45,1297.20 L1141.00,1284.30 L1141.60,1276.30 L1142.00,1274.14 L1142.45,1276.13 L1142.90,1275.97 L1143.35,1276.53 L1143.80,1280.29 L1144.25,1280.46 L1144.70,1277.65 L1145.15,1279.21 L1145.60,1280.29 L1146.05,1276.23 L1146.50,1274.25 L1146.95,1272.89 L1147.40,1272.51 L1147.85,1271.12 L1148.30,1269.89 L1148.75,1270.92 L1149.20,1270.73 L1149.65,1267.62 L1150.10,1266.38 L1150.55,1269.69 L1151.00,1268.80 L1151.45,1266.68 L1151.90,1267.81 L1152.35,1266.19 L1152.80,1266.71 L1153.25,1265.35 L1153.70,1264.91 L1154.15,1263.36 L1154.60,1264.82 L1155.05,1265.31 L1155.50,1264.89 L1155.95,1265.36 L1156.40,1264.34 L1156.85,1264.80 L1157.30,1265.72 L1157.75,1265.38 L1158.20,1263.40 L1158.65,1263.05 L1159.10,1260.88 L1159.55,1255.63 L1160.00,1256.83 L1160.45,1266.25 L1160.90,1272.89 L1161.35,1268.30 L1161.80,1266.37 L1162.25,1266.70 L1162.70,1265.30 L1163.15,1264.98 L1163.60,1263.96 L1164.05,1266.08 L1164.50,1262.40 L1164.95,1268.89 L1165.40,1265.52 L1165.85,1260.72 L1166.30,1265.15 L1166.75,1262.40 L1167.20,1265.34 L1167.65,1266.27 L1168.10,1267.17 L1168.55,1263.12 L1169.00,1260.32 L1169.20,1265.04 L1169.65,1112.20 L1170.15,1300.40 L1170.70,1272.04 L1171.30,1264.04 L1171.70,1261.91 L1172.15,1266.62 L1172.60,1268.65 L1173.05,1271.46 L1173.50,1274.65 L1173.95,1273.32 L1174.40,1270.67 L1174.85,1272.02 L1175.30,1271.43 L1175.75,1266.59 L1176.20,1264.22 L1176.65,1262.96 L1177.10,1272.65 L1177.55,1265.07 L1178.00,1269.69 L1178.45,1262.47 L1178.90,1265.59 L1179.35,1261.98 L1179.80,1255.59 L1180.25,1262.60 L1180.70,1260.73 L1181.15,1259.12 L1181.60,1259.55 L1182.05,1257.23 L1182.50,1259.48 L1182.95,1261.79 L1183.40,1263.20 L1183.85,1264.52 L1184.30,1262.32 L1184.75,1260.29 L1185.20,1259.67 L1185.65,1261.23 L1186.10,1265.36 L1186.55,1261.85 L1187.00,1262.93 L1187.45,1260.42 L1187.90,1263.63 L1188.35,1265.80 L1188.80,1266.20 L1189.25,1263.76 L1189.70,1265.52 L1190.15,1256.07 L1190.60,1253.73 L1191.05,1264.29 L1191.50,1270.82 L1191.95,1265.71 L1192.40,1262.50 L1192.85,1262.32 L1193.30,1265.31 L1193.75,1266.20 L1194.20,1263.02 L1194.65,1265.53 L1195.10,1265.14 L1195.55,1264.49 L1196.00,1264.59 L1196.45,1265.50 L1196.90,1263.24 L1197.35,1262.82 L1197.80,1262.87 L1198.25,1263.46 L1198.70,1264.83 L1199.15,1265.30 L1199.60,1264.29 L1199.90,1267.75 L1200.35,1113.30 L1200.85,1307.30 L1201.40,1274.75 L1202.00,1266.75 L1202.40,1265.80 L1202.85,1268.34 L1203.30,1270.23 L1203.75,1271.73 L1204.20,1272.53 L1204.65,1274.82 L1205.10,1274.74 L1205.55,1272.17 L1206.00,1273.36 L1206.45,1272.48 L1206.90,1270.33 L1207.35,1270.58 L1207.80,1269.86 L1208.25,1271.41 L1208.70,1270.79 L1209.15,1269.03 L1209.60,1266.38 L1210.05,1269.15 L1210.50,1270.88 L1210.95,1268.76 L1211.40,1265.71 L1211.85,1267.94 L1212.30,1269.02 L1212.75,1268.70 L1213.20,1267.85 L1213.65,1267.27 L1214.10,1267.77 L1214.55,1268.47 L1215.00,1267.55 L1215.45,1268.36 L1215.90,1265.85 L1216.35,1265.46 L1216.80,1266.41 L1217.25,1265.70 L1217.70,1267.12 L1218.15,1270.86 L1218.60,1267.33 L1219.05,1268.75 L1219.50,1267.46 L1219.95,1262.44 L1220.40,1260.21 L1220.85,1275.24 L1221.30,1279.37 L1221.75,1272.67 L1222.20,1271.73 L1222.65,1271.75 L1223.10,1271.15 L1223.55,1271.57 L1224.00,1271.26 L1224.45,1268.88 L1224.90,1269.18 L1225.35,1271.59 L1225.80,1269.94 L1226.25,1271.68 L1226.70,1269.14 L1227.15,1269.65 L1227.60,1270.90 L1228.05,1271.58 L1228.50,1271.60 L1228.95,1269.72 L1229.40,1270.60 L1229.60,1272.95 L1230.05,1096.50 L1230.55,1302.50 L1231.10,1279.95 L1231.70,1271.95 L1232.10,1270.45 L1232.55,1271.28 L1233.00,1273.70 L1233.45,1276.91 L1233.90,1276.56 L1234.35,1277.59 L1234.80,1278.72 L1235.25,1278.76 L1235.70,1276.06 L1236.15,1275.29 L1236.60,1275.97 L1237.05,1275.33 L1237.50,1272.05 L1237.95,1270.62 L1238.40,1270.49 L1238.85,1270.97 L1239.30,1270.98 L1239.75,1270.60 L1240.20,1271.34 L1240.65,1269.81 L1241.10,1268.53 L1241.55,1269.32 L1242.00,1270.35 L1242.45,1268.14 L1242.90,1269.02 L1243.35,1270.49 L1243.80,1269.04 L1244.25,1268.87 L1244.70,1268.48 L1245.15,1270.08 L1245.60,1269.99 L1246.05,1268.30 L1246.50,1267.70 L1246.95,1268.57 L1247.40,1267.98 L1247.85,1267.47 L1248.30,1268.12 L1248.75,1267.13 L1249.20,1266.19 L1249.65,1259.27 L1250.10,1262.54 L1250.55,1274.45 L1251.00,1275.77 L1251.45,1270.61 L1251.90,1270.18 L1252.35,1271.47 L1252.80,1270.28 L1253.25,1270.54 L1253.70,1270.80 L1254.15,1272.74 L1254.60,1273.82 L1255.05,1271.80 L1255.50,1267.09 L1255.95,1269.64 L1256.40,1272.28 L1256.85,1272.02 L1257.30,1272.30 L1257.75,1273.56 L1258.20,1267.28 L1258.65,1267.94 L1259.20,1273.65 L1259.65,1118.50 L1260.15,1305.90 L1260.70,1280.65 L1261.30,1272.65 L1261.70,1274.06 L1262.15,1271.66 L1262.60,1271.27 L1263.05,1279.34 L1263.50,1275.94 L1263.95,1282.61 L1264.40,1280.36 L1264.85,1275.95 L1265.30,1275.78 L1265.75,1276.19 L1266.20,1278.99 L1266.65,1279.58 L1267.10,1278.81 L1267.55,1271.53 L1268.00,1279.81 L1268.45,1275.97 L1268.90,1271.88 L1269.35,1272.40 L1269.80,1271.67 L1270.25,1271.43 L1270.70,1268.56 L1271.15,1270.16 L1271.60,1272.24 L1272.05,1271.25 L1272.50,1271.46 L1272.95,1270.12 L1273.40,1271.92 L1273.85,1271.61 L1274.30,1272.72 L1274.75,1270.36 L1275.20,1271.80 L1275.65,1269.32 L1276.10,1270.85 L1276.55,1268.59 L1277.00,1270.51 L1277.45,1271.37 L1277.90,1269.99 L1278.35,1270.01 L1278.80,1266.96 L1279.25,1259.73 L1279.70,1259.30 L1280.15,1273.35 L1280.60,1276.12 L1281.05,1271.86 L1281.50,1271.68 L1281.95,1267.46 L1282.40,1268.59 L1282.85,1271.37 L1283.30,1272.45 L1283.75,1269.76 L1284.20,1271.21 L1284.65,1272.29 L1285.10,1269.16 L1285.55,1267.35 L1286.00,1270.29 L1286.45,1269.52 L1286.90,1272.38 L1287.35,1272.02 L1287.80,1272.44 L1288.25,1265.67 L1288.70,1268.70 L1288.90,1272.51 L1289.35,1116.40 L1289.85,1304.90 L1290.40,1279.51 L1291.00,1271.51 L1291.40,1271.79 L1291.85,1273.70 L1292.30,1275.20 L1292.75,1275.56 L1293.20,1278.85 L1293.65,1276.09 L1294.10,1275.64 L1294.55,1276.56 L1295.00,1274.72 L1295.45,1276.86 L1295.90,1276.36 L1296.35,1275.43 L1296.80,1272.61 L1297.25,1271.63 L1297.70,1273.43 L1298.15,1270.09 L1298.60,1269.05 L1299.05,1272.01 L1299.50,1269.61 L1299.95,1271.20 L1300.40,1269.46 L1300.85,1268.64 L1301.30,1270.44 L1301.75,1272.32 L1302.20,1267.84 L1302.65,1268.62 L1303.10,1267.98 L1303.55,1270.82 L1304.00,1272.80 L1304.45,1269.59 L1304.90,1271.23 L1305.35,1270.98 L1305.80,1271.11 L1306.25,1267.74 L1306.70,1269.42 L1307.15,1267.29 L1307.60,1267.28 L1308.05,1268.29 L1308.50,1260.96 L1308.95,1259.50 L1309.40,1269.55 L1309.85,1274.76 L1310.30,1272.94 L1310.75,1271.36 L1311.20,1265.58 L1311.65,1269.67 L1312.10,1270.34 L1312.55,1268.59 L1313.00,1270.21 L1313.45,1270.95 L1313.90,1269.71 L1314.35,1269.35 L1314.80,1270.43 L1315.25,1268.38 L1315.70,1269.20 L1316.15,1268.82 L1316.60,1267.47 L1317.05,1267.95 L1317.50,1268.48 L1317.95,1267.85 L1318.20,1271.59 L1318.65,1117.80 L1319.15,1308.40 L1319.70,1278.59 L1320.30,1270.59 L1320.70,1270.28 L1321.15,1271.58 L1321.60,1273.69 L1322.05,1274.93 L1322.50,1276.41 L1322.95,1276.67 L1323.40,1277.00 L1323.85,1274.87 L1324.30,1275.19 L1324.75,1274.05 L1325.20,1272.36 L1325.65,1271.75 L1326.10,1273.06 L1326.55,1269.60 L1327.00,1271.33 L1327.45,1267.93 L1327.90,1268.61 L1328.35,1269.01 L1328.80,1271.02 L1329.25,1271.11 L1329.70,1271.60 L1330.15,1270.62 L1330.60,1269.78 L1331.05,1271.19 L1331.50,1269.92 L1331.95,1268.02 L1332.40,1270.87 L1332.85,1270.64 L1333.30,1266.16 L1333.75,1266.62 L1334.20,1268.87 L1334.65,1268.32 L1335.10,1268.27 L1335.55,1267.24 L1336.00,1269.44 L1336.45,1269.42 L1336.90,1271.23 L1337.35,1268.47 L1337.80,1263.10 L1338.25,1259.95 L1338.70,1271.77 L1339.15,1277.39 L1339.60,1272.83 L1340.05,1268.75 L1340.50,1267.19 L1340.95,1268.07 L1341.40,1266.31 L1341.85,1264.43 L1342.30,1269.21 L1342.75,1268.40 L1343.20,1267.29 L1343.65,1266.64 L1344.10,1268.41 L1344.55,1266.95 L1345.00,1267.76 L1345.45,1266.90 L1345.90,1269.28 L1346.35,1269.40 L1346.80,1268.71 L1347.25,1268.96 L1347.50,1271.02 L1347.95,1099.00 L1348.45,1296.20 L1349.00,1278.02 L1349.60,1270.02 L1350.00,1269.93 L1350.45,1272.15 L1350.90,1272.50 L1351.35,1277.95 L1351.80,1278.34 L1352.25,1278.58 L1352.70,1275.14 L1353.15,1272.93 L1353.60,1275.53 L1354.05,1273.14 L1354.50,1271.35 L1354.95,1272.27 L1355.40,1271.39 L1355.85,1272.76 L1356.30,1271.69 L1356.75,1271.69 L1357.20,1268.88 L1357.65,1269.49 L1358.10,1269.63 L1358.55,1267.22 L1359.00,1269.42 L1359.45,1267.92 L1359.90,1267.12 L1360.35,1268.21 L1360.80,1269.02 L1361.25,1271.14 L1361.70,1268.98 L1362.15,1267.77 L1362.60,1269.23 L1363.05,1267.71 L1363.50,1269.09 L1363.95,1268.58 L1364.40,1268.35 L1364.85,1268.26 L1365.30,1267.96 L1365.75,1267.50 L1366.20,1268.77 L1366.65,1267.31 L1367.10,1263.92 L1367.55,1258.61 L1368.00,1268.57 L1368.45,1276.84 L1368.90,1272.30 L1369.35,1269.16 L1369.80,1268.75 L1370.25,1268.53 L1370.70,1269.29 L1371.15,1270.10 L1371.60,1267.90 L1372.05,1267.27 L1372.50,1270.09 L1372.95,1268.73 L1373.40,1271.11 L1373.85,1271.38 L1374.30,1266.96 L1374.75,1267.18 L1375.20,1269.04 L1375.65,1267.66 L1376.10,1266.61 L1376.55,1267.40 L1376.90,1272.34 L1377.35,1114.00 L1377.85,1303.20 L1378.40,1279.34 L1379.00,1271.34 L1379.40,1271.59 L1379.85,1273.96 L1380.30,1273.06 L1380.75,1276.58 L1381.20,1275.26 L1381.65,1277.61 L1382.10,1276.69 L1382.55,1275.04 L1383.00,1275.31 L1383.45,1277.36 L1383.90,1274.36 L1384.35,1274.11 L1384.80,1273.12 L1385.25,1274.29 L1385.70,1270.16 L1386.15,1271.76 L1386.60,1270.18 L1387.05,1268.86 L1387.50,1270.25 L1387.95,1270.67 L1388.40,1268.52 L1388.85,1269.91 L1389.30,1269.37 L1389.75,1270.56 L1390.20,1271.67 L1390.65,1269.28 L1391.10,1269.91 L1391.55,1268.56 L1392.00,1270.48 L1392.45,1271.49 L1392.90,1270.45 L1393.35,1270.34 L1393.80,1270.94 L1394.25,1269.67 L1394.70,1269.50 L1395.15,1268.71 L1395.60,1270.31 L1396.05,1269.25 L1396.50,1262.68 L1396.95,1260.15 L1397.40,1270.10 L1397.85,1276.80 L1398.30,1272.97 L1398.75,1268.26 L1399.20,1268.55 L1399.65,1267.29 L1400.10,1269.66 L1400.55,1267.62 L1401.00,1267.19 L1401.45,1266.95 L1401.90,1268.65 L1402.35,1267.93 L1402.80,1268.60 L1403.25,1268.33 L1403.70,1268.18 L1404.15,1269.96 L1404.60,1270.50 L1405.05,1268.79 L1405.50,1268.85 L1405.95,1267.21 L1406.20,1271.97 L1406.65,1117.50 L1407.15,1305.90 L1407.70,1278.97 L1408.30,1270.97 L1408.70,1269.88 L1409.15,1271.65 L1409.60,1273.06 L1410.05,1274.96 L1410.50,1275.32 L1410.95,1276.45 L1411.40,1276.74 L1411.85,1275.38 L1412.30,1275.06 L1412.75,1274.22 L1413.20,1273.82 L1413.65,1272.14 L1414.10,1271.22 L1414.55,1267.68 L1415.00,1268.68 L1415.45,1269.61 L1415.90,1269.13 L1416.35,1268.17 L1416.80,1269.92 L1417.25,1267.64 L1417.70,1269.98 L1418.15,1270.45 L1418.60,1270.72 L1419.05,1266.91 L1419.50,1267.32 L1419.95,1269.62 L1420.40,1266.90 L1420.85,1269.51 L1421.30,1270.43 L1421.75,1269.31 L1422.20,1268.66 L1422.65,1265.84 L1423.10,1270.72 L1423.55,1271.54 L1424.00,1267.70 L1424.45,1269.93 L1424.90,1264.82 L1425.35,1263.28 L1425.80,1256.21 L1426.25,1270.88 L1426.70,1277.25 L1427.15,1271.86 L1427.60,1268.43 L1428.05,1265.44 L1428.50,1267.01 L1428.95,1268.49 L1429.40,1265.97 L1429.85,1264.82 L1430.30,1267.60 L1430.75,1270.15 L1431.20,1266.20 L1431.65,1265.53 L1432.10,1267.70 L1432.55,1269.77 L1433.00,1267.24 L1433.45,1266.43 L1433.90,1267.38 L1434.35,1266.55 L1434.80,1267.47 L1435.10,1271.01 L1435.55,1093.70 L1436.05,1302.10 L1436.60,1278.01 L1437.20,1270.01 L1437.60,1270.25 L1438.05,1271.70 L1438.50,1272.28 L1438.95,1274.59 L1439.40,1276.31 L1439.85,1275.36 L1440.30,1276.29 L1440.75,1275.71 L1441.20,1275.79 L1441.65,1273.10 L1442.10,1273.86 L1442.55,1271.32 L1443.00,1271.14 L1443.45,1269.28 L1443.90,1270.59 L1444.35,1269.68 L1444.80,1268.66 L1445.25,1269.41 L1445.70,1269.80 L1446.15,1268.67 L1446.60,1269.64 L1447.05,1270.35 L1447.50,1269.53 L1447.95,1266.27 L1448.40,1267.75 L1448.85,1266.32 L1449.30,1269.54 L1449.75,1270.07 L1450.20,1270.02 L1450.65,1269.04 L1451.10,1267.13 L1451.55,1265.79 L1452.00,1265.30 L1452.45,1268.05 L1452.90,1269.96 L1453.35,1269.22 L1453.80,1269.93 L1454.25,1267.39 L1454.70,1264.10 L1455.15,1260.01 L1455.60,1267.10 L1456.05,1274.61 L1456.50,1273.64 L1456.95,1268.29 L1457.40,1270.06 L1457.85,1268.77 L1458.30,1268.42 L1458.75,1266.77 L1459.20,1268.00 L1459.65,1266.35 L1460.10,1267.80 L1460.55,1267.08 L1461.00,1268.15 L1461.45,1267.51 L1461.90,1268.73 L1462.35,1269.38 L1462.80,1266.03 L1463.25,1265.76 L1463.70,1268.64 L1464.15,1268.88 L1464.50,1271.00 L1464.95,1120.60 L1465.45,1304.90 L1466.00,1278.00 L1466.60,1270.00" fill="none" stroke="#231f20" stroke-width="1.3" stroke-linejoin="round"/>
<path d="M974.70,1595.18 L975.12,1596.57 L975.54,1596.59 L975.96,1593.60 L976.38,1594.20 L976.80,1591.27 L977.22,1591.38 L977.64,1593.08 L978.06,1589.70 L978.48,1594.36 L978.90,1591.33 L979.32,1590.56 L979.74,1590.28 L980.16,1596.17 L980.58,1591.73 L981.00,1594.11 L981.42,1595.00 L981.84,1593.69 L982.26,1594.77 L982.68,1595.11 L983.10,1591.45 L983.52,1587.92 L983.94,1579.26 L984.36,1577.22 L984.78,1586.95 L985.20,1590.18 L985.62,1591.73 L986.04,1591.89 L986.46,1589.38 L986.88,1588.67 L987.30,1593.58 L987.72,1596.41 L988.14,1593.59 L988.56,1586.36 L988.98,1594.04 L989.40,1594.38 L989.82,1595.66 L990.24,1592.36 L990.66,1594.33 L991.08,1594.61 L991.50,1595.37 L991.92,1599.13 L992.34,1593.43 L992.76,1595.54 L993.18,1596.00 L993.60,1592.98 L994.02,1591.82 L994.44,1591.60 L994.86,1595.52 L995.28,1592.21 L995.70,1596.00 L996.15,1459.70 L996.65,1685.80 L997.00,1530.00 L997.50,1534.00 L999.90,1590.00 L1000.70,1595.00 L1001.10,1594.54 L1001.52,1594.23 L1001.94,1595.45 L1002.36,1594.87 L1002.78,1596.97 L1003.20,1595.37 L1003.62,1594.19 L1004.04,1595.20 L1004.46,1590.47 L1004.88,1586.37 L1005.30,1592.99 L1005.72,1594.96 L1006.14,1596.49 L1006.56,1595.31 L1006.98,1596.23 L1007.40,1594.55 L1007.82,1593.49 L1008.24,1597.42 L1008.66,1596.44 L1009.08,1594.65 L1009.50,1593.24 L1009.92,1592.15 L1010.34,1583.84 L1010.76,1585.07 L1011.18,1594.11 L1011.60,1597.06 L1012.02,1595.77 L1012.44,1597.05 L1012.86,1599.35 L1013.28,1596.97 L1013.70,1596.71 L1014.12,1597.24 L1014.54,1598.59 L1014.96,1598.73 L1015.38,1597.49 L1015.80,1598.80 L1016.22,1599.19 L1016.64,1597.99 L1017.06,1599.95 L1017.48,1596.85 L1017.90,1598.69 L1018.32,1596.22 L1018.74,1597.60 L1019.16,1593.78 L1019.58,1596.06 L1020.00,1595.39 L1020.42,1597.70 L1020.84,1597.76 L1021.26,1591.62 L1021.68,1596.05 L1021.90,1598.06 L1022.35,1472.20 L1022.85,1664.90 L1023.20,1532.06 L1023.70,1536.06 L1026.10,1592.06 L1026.90,1597.06 L1027.30,1597.07 L1027.72,1594.79 L1028.14,1595.06 L1028.56,1593.15 L1028.98,1594.60 L1029.40,1594.36 L1029.82,1595.59 L1030.24,1595.84 L1030.66,1592.55 L1031.08,1587.29 L1031.50,1592.88 L1031.92,1597.62 L1032.34,1594.90 L1032.76,1594.54 L1033.18,1595.54 L1033.60,1598.57 L1034.02,1596.72 L1034.44,1597.42 L1034.86,1595.15 L1035.28,1596.77 L1035.70,1599.14 L1036.12,1596.53 L1036.54,1594.22 L1036.96,1596.66 L1037.38,1594.94 L1037.80,1597.86 L1038.22,1591.62 L1038.64,1581.98 L1039.06,1583.94 L1039.48,1595.31 L1039.90,1595.78 L1040.32,1596.75 L1040.74,1596.05 L1041.16,1596.74 L1041.58,1596.82 L1042.00,1597.50 L1042.42,1596.18 L1042.84,1598.22 L1043.26,1597.54 L1043.68,1598.86 L1044.10,1596.38 L1044.52,1595.56 L1044.94,1595.95 L1045.36,1596.70 L1045.78,1597.31 L1046.20,1595.74 L1046.62,1596.06 L1047.04,1596.25 L1047.46,1596.94 L1047.88,1596.51 L1048.30,1597.19 L1048.72,1595.15 L1049.14,1598.05 L1049.56,1597.33 L1049.98,1599.27 L1050.20,1598.92 L1050.65,1473.60 L1051.15,1681.60 L1051.50,1532.92 L1052.00,1536.92 L1054.40,1592.92 L1055.20,1597.92 L1055.60,1597.71 L1056.02,1597.82 L1056.44,1599.82 L1056.86,1596.52 L1057.28,1594.36 L1057.70,1598.72 L1058.12,1599.66 L1058.54,1595.82 L1058.96,1593.28 L1059.38,1585.29 L1059.80,1593.20 L1060.22,1594.78 L1060.64,1596.93 L1061.06,1592.88 L1061.48,1598.45 L1061.90,1598.21 L1062.32,1600.87 L1062.74,1601.40 L1063.16,1593.67 L1063.58,1593.54 L1064.00,1599.29 L1064.42,1594.08 L1064.84,1598.92 L1065.26,1597.56 L1065.68,1594.13 L1066.10,1592.73 L1066.52,1594.70 L1066.94,1593.15 L1067.36,1596.93 L1067.78,1594.24 L1068.20,1594.74 L1068.62,1595.73 L1069.04,1595.38 L1069.46,1597.76 L1069.88,1596.87 L1070.30,1597.71 L1070.72,1596.72 L1071.14,1596.03 L1071.56,1594.05 L1071.98,1584.09 L1072.40,1580.79 L1072.82,1588.45 L1073.24,1595.09 L1073.66,1596.22 L1074.08,1595.00 L1074.50,1595.01 L1074.92,1595.57 L1075.34,1596.41 L1075.76,1597.05 L1076.18,1594.11 L1076.60,1595.85 L1077.02,1594.72 L1077.44,1595.95 L1077.86,1594.69 L1078.28,1595.03 L1078.70,1595.00 L1079.12,1595.01 L1079.54,1594.22 L1079.96,1595.91 L1080.38,1595.42 L1080.80,1595.65 L1081.22,1595.94 L1081.64,1595.20 L1082.06,1593.33 L1082.48,1592.90 L1082.90,1594.96 L1083.32,1592.88 L1083.70,1597.60 L1084.15,1470.50 L1084.65,1685.10 L1085.00,1531.60 L1085.50,1535.60 L1087.90,1591.60 L1088.70,1596.60 L1089.10,1597.32 L1089.52,1595.57 L1089.94,1593.39 L1090.36,1593.32 L1090.78,1594.57 L1091.20,1593.59 L1091.62,1594.06 L1092.04,1593.41 L1092.46,1589.71 L1092.88,1591.58 L1093.30,1595.59 L1093.72,1596.93 L1094.14,1598.21 L1094.56,1597.07 L1094.98,1596.88 L1095.40,1594.39 L1095.82,1593.23 L1096.24,1593.26 L1096.66,1597.63 L1097.08,1595.28 L1097.50,1594.66 L1097.92,1596.75 L1098.34,1594.72 L1098.76,1598.01 L1099.18,1595.97 L1099.60,1593.20 L1100.02,1597.00 L1100.44,1593.51 L1100.86,1598.45 L1101.28,1595.57 L1101.70,1593.21 L1102.12,1595.42 L1102.54,1592.96 L1102.96,1592.38 L1103.38,1592.29 L1103.80,1594.69 L1104.22,1592.59 L1104.64,1603.06 L1105.06,1597.60 L1105.48,1596.70 L1105.90,1594.88 L1106.32,1596.26 L1106.74,1596.98 L1107.16,1594.21 L1107.58,1596.51 L1108.00,1596.86 L1108.42,1597.33 L1108.84,1599.54 L1109.26,1596.59 L1109.68,1594.43 L1110.10,1594.66 L1110.52,1597.84 L1110.94,1595.44 L1111.36,1593.57 L1111.78,1593.32 L1112.20,1596.23 L1112.62,1593.96 L1113.04,1593.56 L1113.46,1594.80 L1113.88,1594.24 L1114.30,1595.19 L1114.72,1596.43 L1115.14,1597.04 L1115.56,1596.85 L1115.98,1597.59 L1116.40,1598.08 L1116.82,1597.37 L1117.24,1597.47 L1117.66,1595.81 L1118.08,1595.63 L1118.50,1596.69 L1118.92,1595.69 L1119.34,1596.44 L1119.76,1594.73 L1120.18,1595.90 L1120.60,1597.15 L1121.02,1596.16 L1121.44,1596.18 L1121.86,1595.53 L1122.28,1596.94 L1122.70,1595.73 L1123.12,1595.60 L1123.54,1596.17 L1123.96,1597.18 L1124.38,1596.09 L1124.80,1596.10 L1125.22,1593.98 L1125.64,1587.94 L1126.06,1583.69 L1126.48,1587.92 L1126.90,1594.63 L1127.32,1601.10 L1127.74,1598.18 L1128.16,1598.72 L1128.58,1595.28 L1129.00,1594.43 L1129.42,1595.11 L1129.84,1594.48 L1130.26,1594.33 L1130.68,1598.15 L1131.10,1597.46 L1131.52,1594.03 L1131.94,1595.74 L1132.36,1590.92 L1132.78,1596.74 L1133.20,1594.10 L1133.62,1594.47 L1134.04,1598.52 L1134.46,1598.85 L1134.88,1593.06 L1135.30,1596.14 L1135.72,1595.30 L1136.14,1592.52 L1136.56,1594.52 L1136.98,1597.16 L1137.40,1598.00 L1137.85,1480.60 L1138.35,1667.30 L1138.70,1532.00 L1139.20,1536.00 L1141.60,1592.00 L1142.40,1597.00 L1142.80,1598.52 L1143.22,1598.49 L1143.64,1597.15 L1144.06,1597.51 L1144.48,1596.53 L1144.90,1595.97 L1145.32,1593.59 L1145.74,1593.67 L1146.16,1591.10 L1146.58,1586.09 L1147.00,1591.05 L1147.42,1592.83 L1147.84,1595.96 L1148.26,1597.74 L1148.68,1597.80 L1149.10,1596.58 L1149.52,1595.81 L1149.94,1594.07 L1150.36,1595.44 L1150.78,1592.56 L1151.20,1592.96 L1151.62,1597.23 L1152.04,1594.99 L1152.46,1585.05 L1152.88,1580.30 L1153.30,1585.48 L1153.72,1591.61 L1154.14,1593.42 L1154.56,1597.39 L1154.98,1596.54 L1155.40,1593.91 L1155.82,1595.41 L1156.24,1597.50 L1156.66,1595.25 L1157.08,1595.42 L1157.50,1594.23 L1157.92,1595.59 L1158.34,1593.73 L1158.76,1590.83 L1159.18,1594.82 L1159.60,1593.76 L1160.02,1595.53 L1160.44,1596.18 L1160.86,1595.33 L1161.28,1596.86 L1161.70,1596.70 L1162.12,1596.84 L1162.54,1596.09 L1162.96,1595.27 L1163.38,1594.34 L1163.80,1593.93 L1164.30,1597.12 L1164.75,1475.40 L1165.25,1684.40 L1165.60,1531.12 L1166.10,1535.12 L1168.50,1591.12 L1169.30,1596.12 L1169.70,1595.18 L1170.12,1595.93 L1170.54,1596.35 L1170.96,1596.12 L1171.38,1597.12 L1171.80,1597.48 L1172.22,1593.67 L1172.64,1592.48 L1173.06,1588.87 L1173.48,1587.50 L1173.90,1591.48 L1174.32,1593.93 L1174.74,1595.49 L1175.16,1596.35 L1175.58,1598.48 L1176.00,1591.99 L1176.42,1590.95 L1176.84,1578.49 L1177.26,1581.20 L1177.68,1594.49 L1178.10,1593.58 L1178.52,1596.41 L1178.94,1595.93 L1179.36,1593.83 L1179.78,1594.94 L1180.20,1593.53 L1180.62,1596.12 L1181.04,1593.32 L1181.46,1594.49 L1181.88,1595.25 L1182.30,1598.56 L1182.72,1594.58 L1183.14,1591.09 L1183.56,1593.17 L1183.98,1590.60 L1184.40,1593.29 L1184.82,1591.57 L1185.24,1597.50 L1185.66,1595.32 L1186.08,1593.70 L1186.50,1595.86 L1186.92,1592.62 L1187.34,1596.06 L1187.76,1595.71 L1188.18,1595.88 L1188.40,1597.00 L1188.85,1473.30 L1189.35,1664.20 L1189.70,1531.00 L1190.20,1535.00 L1192.60,1591.00 L1193.40,1596.00 L1193.80,1593.49 L1194.22,1596.87 L1194.64,1596.76 L1195.06,1596.91 L1195.48,1597.29 L1195.90,1596.99 L1196.32,1596.49 L1196.74,1596.39 L1197.16,1588.64 L1197.58,1585.10 L1198.00,1590.59 L1198.42,1592.78 L1198.84,1594.41 L1199.26,1594.32 L1199.68,1596.72 L1200.10,1592.98 L1200.52,1596.89 L1200.94,1593.55 L1201.36,1596.85 L1201.78,1592.97 L1202.20,1594.23 L1202.62,1596.16 L1203.04,1596.65 L1203.46,1595.42 L1203.88,1596.11 L1204.30,1593.18 L1204.72,1592.69 L1205.14,1586.95 L1205.56,1582.27 L1205.98,1586.21 L1206.40,1593.33 L1206.82,1593.27 L1207.24,1595.59 L1207.66,1597.69 L1208.08,1595.56 L1208.50,1596.31 L1208.92,1595.27 L1209.34,1594.08 L1209.76,1593.01 L1210.18,1594.42 L1210.60,1596.42 L1211.02,1595.39 L1211.44,1596.62 L1211.86,1597.02 L1212.28,1594.25 L1212.70,1593.38 L1213.12,1595.50 L1213.54,1594.71 L1213.96,1594.21 L1214.38,1596.07 L1214.80,1594.64 L1215.22,1595.19 L1215.64,1594.85 L1216.06,1591.10 L1216.48,1592.63 L1217.00,1597.00 L1217.45,1465.90 L1217.95,1662.80 L1218.30,1531.00 L1218.80,1535.00 L1221.20,1591.00 L1222.00,1596.00 L1222.40,1592.70 L1222.82,1596.78 L1223.24,1593.44 L1223.66,1595.72 L1224.08,1596.21 L1224.50,1593.26 L1224.92,1594.10 L1225.34,1591.24 L1225.76,1585.00 L1226.18,1585.87 L1226.60,1583.23 L1227.02,1592.96 L1227.44,1590.85 L1227.86,1591.07 L1228.28,1595.10 L1228.70,1592.85 L1229.12,1591.63 L1229.54,1595.68 L1229.96,1592.06 L1230.38,1595.43 L1230.80,1596.46 L1231.22,1594.88 L1231.64,1585.22 L1232.06,1578.29 L1232.48,1582.39 L1232.90,1592.44 L1233.32,1594.59 L1233.74,1593.66 L1234.16,1596.63 L1234.58,1593.69 L1235.00,1593.18 L1235.42,1595.06 L1235.84,1593.96 L1236.26,1594.77 L1236.68,1594.80 L1237.10,1596.07 L1237.52,1594.62 L1237.94,1595.01 L1238.36,1595.13 L1238.78,1594.84 L1239.20,1595.73 L1239.62,1594.26 L1240.04,1594.53 L1240.46,1594.36 L1240.88,1595.21 L1241.30,1594.10 L1241.72,1594.40 L1242.14,1595.24 L1242.56,1595.28 L1242.98,1598.18 L1243.50,1597.00 L1243.95,1461.80 L1244.45,1671.90 L1244.80,1531.00 L1245.30,1535.00 L1247.70,1591.00 L1248.50,1596.00 L1248.90,1596.40 L1249.32,1593.93 L1249.74,1593.81 L1250.16,1592.23 L1250.58,1593.93 L1251.00,1592.20 L1251.42,1592.51 L1251.84,1595.41 L1252.26,1589.69 L1252.68,1585.81 L1253.10,1588.88 L1253.52,1592.92 L1253.94,1594.72 L1254.36,1597.54 L1254.78,1593.26 L1255.20,1592.51 L1255.62,1592.22 L1256.04,1594.71 L1256.46,1593.75 L1256.88,1597.26 L1257.30,1593.32 L1257.72,1591.74 L1258.14,1582.27 L1258.56,1582.25 L1258.98,1591.54 L1259.40,1592.52 L1259.82,1594.45 L1260.24,1597.00 L1260.66,1595.47 L1261.08,1596.37 L1261.50,1595.20 L1261.92,1595.65 L1262.34,1593.71 L1262.76,1596.02 L1263.18,1597.92 L1263.60,1593.91 L1264.02,1594.60 L1264.44,1597.05 L1264.86,1596.68 L1265.28,1595.95 L1265.70,1594.47 L1266.12,1598.07 L1266.54,1597.46 L1266.96,1596.27 L1267.38,1595.37 L1267.80,1598.13 L1268.22,1594.69 L1268.64,1592.57 L1269.06,1594.14 L1269.48,1592.37 L1269.70,1597.35 L1270.15,1464.90 L1270.65,1697.00 L1271.00,1531.35 L1271.50,1535.35 L1273.90,1591.35 L1274.70,1596.35 L1275.10,1596.76 L1275.52,1592.66 L1275.94,1593.92 L1276.36,1596.34 L1276.78,1597.82 L1277.20,1595.32 L1277.62,1595.72 L1278.04,1595.56 L1278.46,1588.80 L1278.88,1584.68 L1279.30,1593.34 L1279.72,1594.10 L1280.14,1595.63 L1280.56,1595.02 L1280.98,1596.98 L1281.40,1597.25 L1281.82,1596.12 L1282.24,1595.58 L1282.66,1595.06 L1283.08,1596.25 L1283.50,1596.28 L1283.92,1594.71 L1284.34,1588.41 L1284.76,1581.95 L1285.18,1587.38 L1285.60,1594.21 L1286.02,1595.78 L1286.44,1594.55 L1286.86,1595.51 L1287.28,1596.38 L1287.70,1596.66 L1288.12,1595.66 L1288.54,1597.33 L1288.96,1597.94 L1289.38,1597.81 L1289.80,1597.54 L1290.22,1600.13 L1290.64,1596.54 L1291.06,1596.34 L1291.48,1596.41 L1291.90,1595.72 L1292.32,1596.13 L1292.74,1598.20 L1293.16,1595.62 L1293.58,1599.22 L1294.00,1596.00 L1294.42,1596.77 L1294.84,1594.19 L1295.26,1598.53 L1295.68,1600.09 L1296.20,1599.44 L1296.65,1469.40 L1297.15,1684.40 L1297.50,1533.44 L1298.00,1537.44 L1300.40,1593.44 L1301.20,1598.44 L1301.60,1599.89 L1302.02,1600.87 L1302.44,1597.57 L1302.86,1598.54 L1303.28,1599.06 L1303.70,1595.77 L1304.12,1595.49 L1304.54,1597.80 L1304.96,1592.20 L1305.38,1587.89 L1305.80,1594.54 L1306.22,1595.14 L1306.64,1594.22 L1307.06,1596.24 L1307.48,1594.44 L1307.90,1598.96 L1308.32,1596.62 L1308.74,1594.91 L1309.16,1594.20 L1309.58,1597.57 L1310.00,1597.00 L1310.42,1596.72 L1310.84,1597.41 L1311.26,1595.32 L1311.68,1595.66 L1312.10,1590.44 L1312.52,1584.54 L1312.94,1584.65 L1313.36,1593.80 L1313.78,1594.26 L1314.20,1595.68 L1314.62,1598.35 L1315.04,1595.80 L1315.46,1594.18 L1315.88,1593.56 L1316.30,1598.24 L1316.72,1594.00 L1317.14,1595.65 L1317.56,1594.04 L1317.98,1595.47 L1318.40,1597.08 L1318.82,1595.06 L1319.24,1594.70 L1319.66,1594.55 L1320.08,1594.81 L1320.50,1593.36 L1320.92,1593.76 L1321.34,1595.26 L1321.76,1597.72 L1322.18,1597.20 L1322.60,1597.99 L1323.02,1593.22 L1323.44,1594.10 L1323.86,1595.39 L1324.10,1597.64 L1324.55,1453.00 L1325.05,1697.00 L1325.40,1531.64 L1325.90,1535.64 L1328.30,1591.64 L1329.10,1596.64 L1329.50,1595.31 L1329.92,1595.49 L1330.34,1595.71 L1330.76,1595.17 L1331.18,1594.43 L1331.60,1595.97 L1332.02,1595.05 L1332.44,1594.57 L1332.86,1589.51 L1333.28,1585.20 L1333.70,1592.43 L1334.12,1593.69 L1334.54,1595.34 L1334.96,1595.74 L1335.38,1594.92 L1335.80,1594.43 L1336.22,1595.04 L1336.64,1596.65 L1337.06,1597.10 L1337.48,1595.38 L1337.90,1595.83 L1338.32,1597.35 L1338.74,1595.78 L1339.16,1590.10 L1339.58,1583.09 L1340.00,1584.04 L1340.42,1594.46 L1340.84,1593.55 L1341.26,1594.11 L1341.68,1594.10 L1342.10,1595.81 L1342.52,1596.12 L1342.94,1593.50 L1343.36,1600.57 L1343.78,1593.98 L1344.20,1595.51 L1344.62,1598.53 L1345.04,1594.09 L1345.46,1595.78 L1345.88,1598.81 L1346.30,1595.77 L1346.72,1595.38 L1347.14,1590.22 L1347.56,1596.32 L1347.98,1594.94 L1348.40,1588.77 L1348.82,1597.29 L1349.24,1593.69 L1349.66,1592.08 L1350.08,1596.00 L1350.50,1597.33 L1351.00,1597.01 L1351.45,1468.70 L1351.95,1674.00 L1352.30,1531.01 L1352.80,1535.01 L1355.20,1591.01 L1356.00,1596.01 L1356.40,1594.57 L1356.82,1594.09 L1357.24,1593.68 L1357.66,1594.70 L1358.08,1593.44 L1358.50,1595.92 L1358.92,1595.97 L1359.34,1594.55 L1359.76,1589.73 L1360.18,1584.58 L1360.60,1591.27 L1361.02,1592.98 L1361.44,1594.12 L1361.86,1594.77 L1362.28,1595.99 L1362.70,1594.43 L1363.12,1594.07 L1363.54,1596.43 L1363.96,1594.33 L1364.38,1592.53 L1364.80,1593.19 L1365.22,1592.49 L1365.64,1593.02 L1366.06,1595.03 L1366.48,1596.16 L1366.90,1596.74 L1367.32,1590.71 L1367.74,1582.54 L1368.16,1585.05 L1368.58,1592.88 L1369.00,1593.35 L1369.42,1594.95 L1369.84,1596.19 L1370.26,1595.12 L1370.68,1596.65 L1371.10,1595.61 L1371.52,1595.84 L1371.94,1594.17 L1372.36,1595.28 L1372.78,1593.48 L1373.20,1594.95 L1373.62,1593.37 L1374.04,1592.76 L1374.46,1593.75 L1374.88,1592.82 L1375.30,1594.19 L1375.72,1593.29 L1376.14,1595.37 L1376.56,1593.35 L1376.98,1593.88 L1377.40,1594.57 L1377.82,1594.84 L1378.24,1593.68 L1378.66,1595.56 L1379.08,1595.26 L1379.30,1597.00 L1379.75,1465.90 L1380.25,1693.50 L1380.60,1531.00 L1381.10,1535.00 L1383.50,1591.00 L1384.30,1596.00 L1384.70,1598.00 L1385.12,1592.55 L1385.54,1595.63 L1385.96,1596.45 L1386.38,1596.15 L1386.80,1596.52 L1387.22,1596.89 L1387.64,1596.15 L1388.06,1590.71 L1388.48,1582.90 L1388.90,1588.82 L1389.32,1594.33 L1389.74,1597.15 L1390.16,1599.14 L1390.58,1596.39 L1391.00,1593.80 L1391.42,1598.57 L1391.84,1598.00 L1392.26,1595.90 L1392.68,1597.48 L1393.10,1590.64 L1393.52,1583.07 L1393.94,1585.05 L1394.36,1588.54 L1394.78,1596.96 L1395.20,1597.17 L1395.62,1597.17 L1396.04,1596.46 L1396.46,1597.42 L1396.88,1598.08 L1397.30,1595.58 L1397.72,1595.42 L1398.14,1599.76 L1398.56,1595.95 L1398.98,1592.43 L1399.40,1593.64 L1399.82,1595.83 L1400.24,1595.72 L1400.66,1596.36 L1401.08,1594.78 L1401.50,1594.59 L1401.92,1592.78 L1402.34,1594.11 L1402.76,1595.85 L1403.18,1594.61 L1403.60,1595.21 L1404.02,1594.21 L1404.44,1594.34 L1404.86,1595.50 L1405.10,1597.00 L1405.55,1474.00 L1406.05,1671.90 L1406.40,1531.00 L1406.90,1535.00 L1409.30,1591.00 L1410.10,1596.00 L1410.50,1594.84 L1410.92,1595.16 L1411.34,1594.17 L1411.76,1592.59 L1412.18,1594.13 L1412.60,1592.04 L1413.02,1595.55 L1413.44,1595.99 L1413.86,1587.34 L1414.28,1588.20 L1414.70,1590.08 L1415.12,1594.71 L1415.54,1592.47 L1415.96,1594.62 L1416.38,1593.77 L1416.80,1594.60 L1417.22,1596.61 L1417.64,1594.85 L1418.06,1593.39 L1418.48,1595.40 L1418.90,1596.11 L1419.32,1595.35 L1419.74,1593.03 L1420.16,1589.86 L1420.58,1591.20 L1421.00,1592.69 L1421.42,1588.41 L1421.84,1579.33 L1422.26,1582.40 L1422.68,1589.22 L1423.10,1594.61 L1423.52,1596.06 L1423.94,1599.52 L1424.36,1596.72 L1424.78,1594.53 L1425.20,1595.37 L1425.62,1593.75 L1426.04,1594.86 L1426.46,1594.70 L1426.88,1596.98 L1427.30,1596.86 L1427.72,1597.72 L1428.14,1595.45 L1428.56,1593.99 L1428.98,1593.81 L1429.40,1596.68 L1429.82,1596.66 L1430.24,1594.02 L1430.66,1597.30 L1431.08,1592.57 L1431.50,1593.52 L1431.92,1592.90 L1432.34,1593.73 L1432.76,1594.15 L1433.18,1595.50 L1433.40,1597.00 L1433.85,1458.30 L1434.35,1697.00 L1434.70,1531.00 L1435.20,1535.00 L1437.60,1591.00 L1438.40,1596.00 L1438.80,1598.11 L1439.22,1601.32 L1439.64,1594.25 L1440.06,1596.48 L1440.48,1595.15 L1440.90,1594.60 L1441.32,1593.28 L1441.74,1591.26 L1442.16,1591.16 L1442.58,1586.15 L1443.00,1593.06 L1443.42,1593.53 L1443.84,1596.52 L1444.26,1594.70 L1444.68,1592.52 L1445.10,1583.10 L1445.52,1580.88 L1445.94,1588.98 L1446.36,1594.09 L1446.78,1594.80 L1447.20,1595.94 L1447.62,1595.38 L1448.04,1595.49 L1448.46,1594.94 L1448.88,1594.13 L1449.30,1594.53 L1449.72,1594.09 L1450.14,1595.47 L1450.56,1594.98 L1450.98,1595.75 L1451.40,1594.61 L1451.82,1594.28 L1452.24,1595.18 L1452.66,1595.97 L1453.08,1595.75 L1453.50,1596.10 L1453.92,1595.61 L1454.34,1594.59 L1454.76,1594.39 L1455.18,1595.56 L1455.60,1595.47 L1456.02,1594.20 L1456.44,1593.20 L1456.80,1597.33 L1457.25,1485.10 L1457.75,1678.90 L1458.10,1531.33 L1458.60,1535.33 L1461.00,1591.33 L1461.80,1596.33 L1462.20,1596.91 L1462.62,1597.66 L1463.04,1600.67 L1463.46,1597.04 L1463.88,1595.98 L1464.30,1597.35 L1464.72,1600.47 L1465.14,1598.70 L1465.56,1592.53 L1465.98,1585.61 L1466.40,1594.77 L1466.82,1594.14 L1467.24,1597.93 L1467.66,1596.09 L1468.08,1598.09 L1468.50,1597.76" fill="none" stroke="#231f20" stroke-width="1.3" stroke-linejoin="round"/>
<path d="M996.10,1530.00 L997.40,1530.00 L999.90,1591.00 L996.40,1591.00Z" fill="#231f20"/>
<path d="M1022.30,1532.06 L1023.60,1532.06 L1026.10,1593.06 L1022.60,1593.06Z" fill="#231f20"/>
<path d="M1050.60,1532.92 L1051.90,1532.92 L1054.40,1593.92 L1050.90,1593.92Z" fill="#231f20"/>
<path d="M1084.10,1531.60 L1085.40,1531.60 L1087.90,1592.60 L1084.40,1592.60Z" fill="#231f20"/>
<path d="M1137.80,1532.00 L1139.10,1532.00 L1141.60,1593.00 L1138.10,1593.00Z" fill="#231f20"/>
<path d="M1164.70,1531.12 L1166.00,1531.12 L1168.50,1592.12 L1165.00,1592.12Z" fill="#231f20"/>
<path d="M1188.80,1531.00 L1190.10,1531.00 L1192.60,1592.00 L1189.10,1592.00Z" fill="#231f20"/>
<path d="M1217.40,1531.00 L1218.70,1531.00 L1221.20,1592.00 L1217.70,1592.00Z" fill="#231f20"/>
<path d="M1243.90,1531.00 L1245.20,1531.00 L1247.70,1592.00 L1244.20,1592.00Z" fill="#231f20"/>
<path d="M1270.10,1531.35 L1271.40,1531.35 L1273.90,1592.35 L1270.40,1592.35Z" fill="#231f20"/>
<path d="M1296.60,1533.44 L1297.90,1533.44 L1300.40,1594.44 L1296.90,1594.44Z" fill="#231f20"/>
<path d="M1324.50,1531.64 L1325.80,1531.64 L1328.30,1592.64 L1324.80,1592.64Z" fill="#231f20"/>
<path d="M1351.40,1531.01 L1352.70,1531.01 L1355.20,1592.01 L1351.70,1592.01Z" fill="#231f20"/>
<path d="M1379.70,1531.00 L1381.00,1531.00 L1383.50,1592.00 L1380.00,1592.00Z" fill="#231f20"/>
<path d="M1405.50,1531.00 L1406.80,1531.00 L1409.30,1592.00 L1405.80,1592.00Z" fill="#231f20"/>
<path d="M1433.80,1531.00 L1435.10,1531.00 L1437.60,1592.00 L1434.10,1592.00Z" fill="#231f20"/>
<path d="M1457.20,1531.33 L1458.50,1531.33 L1461.00,1592.33 L1457.50,1592.33Z" fill="#231f20"/></svg></body></html>
